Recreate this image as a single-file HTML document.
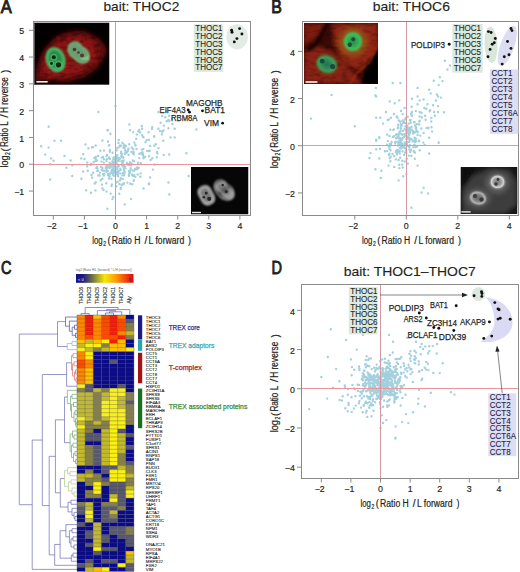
<!DOCTYPE html><html><head><meta charset="utf-8"><style>html,body{margin:0;padding:0;background:#fff;width:520px;height:572px;overflow:hidden}svg{display:block}text{font-family:"Liberation Sans",sans-serif}</style></head><body><svg width="520" height="572" viewBox="0 0 520 572" font-family="Liberation Sans, sans-serif">
<defs>
<filter id="b1" x="-30%" y="-30%" width="160%" height="160%"><feGaussianBlur stdDeviation="1.2"/></filter>
<filter id="b2" x="-30%" y="-30%" width="160%" height="160%"><feGaussianBlur stdDeviation="2.2"/></filter>
<filter id="b05" x="-30%" y="-30%" width="160%" height="160%"><feGaussianBlur stdDeviation="0.6"/></filter>
<filter id="mottle" x="0" y="0" width="100%" height="100%"><feTurbulence type="fractalNoise" baseFrequency="0.12 0.3" numOctaves="2" seed="4" result="n"/><feColorMatrix in="n" type="matrix" values="0 0 0 0 0  0 0 0 0 0  0 0 0 0 0  0 0 0 -2.2 1.25"/></filter>
<radialGradient id="nucG"><stop offset="0" stop-color="#1f7a3a"/><stop offset="0.55" stop-color="#2a9a48"/><stop offset="0.82" stop-color="#48d068"/><stop offset="0.95" stop-color="#3aa050"/><stop offset="1" stop-color="#3a6030" stop-opacity="0.4"/></radialGradient>
<radialGradient id="nucY"><stop offset="0" stop-color="#8a7a60"/><stop offset="0.5" stop-color="#8a9a70"/><stop offset="0.8" stop-color="#70c070"/><stop offset="0.95" stop-color="#50a050"/><stop offset="1" stop-color="#4a6030" stop-opacity="0.4"/></radialGradient>
<radialGradient id="nucW"><stop offset="0" stop-color="#808080"/><stop offset="0.6" stop-color="#989898"/><stop offset="0.85" stop-color="#c8c8c8"/><stop offset="1" stop-color="#606060" stop-opacity="0.3"/></radialGradient>
<radialGradient id="nucG2"><stop offset="0" stop-color="#2a8a40"/><stop offset="0.6" stop-color="#34b050"/><stop offset="0.85" stop-color="#48c864"/><stop offset="1" stop-color="#40a048" stop-opacity="0.5"/></radialGradient>
<radialGradient id="nucG3"><stop offset="0" stop-color="#2a6a50"/><stop offset="0.6" stop-color="#2e9058"/><stop offset="0.85" stop-color="#3cb060"/><stop offset="1" stop-color="#40a048" stop-opacity="0.5"/></radialGradient>
<radialGradient id="nucW2"><stop offset="0" stop-color="#6a6a6a"/><stop offset="0.6" stop-color="#808080"/><stop offset="0.85" stop-color="#b0b0b0"/><stop offset="1" stop-color="#606060" stop-opacity="0.3"/></radialGradient>
<clipPath id="cA1"><rect x="34.5" y="23" width="74.5" height="61.5"/></clipPath>
<clipPath id="cA2"><rect x="191" y="167" width="57.5" height="47.5"/></clipPath>
<clipPath id="cB1"><rect x="304" y="23" width="74" height="61"/></clipPath>
<clipPath id="cB2"><rect x="460.5" y="167" width="57" height="47"/></clipPath>
</defs>
<rect width="520" height="572" fill="#fff"/>
<path d="M106.4 156.1h.01M108.9 178.5h.01M124.0 165.7h.01M111.9 170.0h.01M123.8 183.2h.01M102.4 178.7h.01M111.4 171.4h.01M117.3 158.5h.01M110.5 173.1h.01M113.3 159.0h.01M137.2 167.4h.01M118.3 172.5h.01M142.1 153.9h.01M130.7 168.7h.01M131.5 151.9h.01M110.0 173.9h.01M121.4 156.0h.01M112.3 172.8h.01M103.8 162.6h.01M125.3 168.4h.01M111.8 166.1h.01M116.0 182.5h.01M129.9 164.7h.01M133.1 149.3h.01M117.5 174.1h.01M97.2 171.1h.01M107.8 167.5h.01M117.8 181.6h.01M106.4 166.0h.01M131.8 147.5h.01M113.6 157.5h.01M121.5 161.2h.01M120.4 173.4h.01M112.0 170.5h.01M116.2 172.4h.01M101.8 170.0h.01M114.0 159.1h.01M91.0 163.7h.01M125.8 145.7h.01M113.2 169.3h.01M117.4 148.0h.01M125.1 150.4h.01M116.4 186.3h.01M130.0 170.8h.01M103.1 156.9h.01M110.7 193.6h.01M117.3 155.3h.01M98.3 175.4h.01M122.1 156.5h.01M118.8 166.0h.01M121.3 156.0h.01M114.7 168.0h.01M129.0 171.3h.01M112.6 152.7h.01M129.9 172.6h.01M99.9 172.6h.01M95.8 182.2h.01M132.6 170.4h.01M84.5 159.1h.01M130.1 162.1h.01M117.5 175.3h.01M122.4 164.8h.01M106.8 159.2h.01M109.8 158.9h.01M118.7 159.1h.01M149.1 156.2h.01M113.7 175.4h.01M107.2 166.1h.01M97.9 170.7h.01M107.9 174.1h.01M129.5 163.7h.01M130.5 168.1h.01M123.1 160.8h.01M117.2 169.1h.01M136.5 149.0h.01M106.6 159.6h.01M116.3 173.9h.01M108.9 145.5h.01M95.7 159.2h.01M102.3 188.2h.01M109.8 165.0h.01M107.4 166.0h.01M113.7 165.4h.01M133.1 153.1h.01M123.4 157.6h.01M116.9 156.8h.01M106.6 169.7h.01M113.2 166.9h.01M122.7 162.1h.01M119.0 158.0h.01M112.5 161.1h.01M123.4 147.7h.01M130.1 163.1h.01M123.3 166.8h.01M118.6 171.0h.01M134.0 161.3h.01M103.8 175.6h.01M128.5 154.8h.01M118.7 139.9h.01M128.4 148.7h.01M122.8 178.9h.01M106.5 160.8h.01M110.5 167.0h.01M106.5 171.8h.01M114.7 168.5h.01M118.0 176.3h.01M113.1 174.8h.01M125.0 153.1h.01M93.1 172.8h.01M116.8 155.8h.01M122.5 161.8h.01M133.8 180.8h.01M123.0 173.2h.01M135.1 168.6h.01M139.2 158.1h.01M96.2 160.8h.01M109.0 157.4h.01M134.2 175.1h.01M112.2 163.1h.01M119.0 159.2h.01M118.0 175.3h.01M133.3 153.7h.01M121.8 165.3h.01M94.2 161.8h.01M115.8 156.7h.01M102.4 168.1h.01M109.7 176.2h.01M94.4 157.8h.01M113.9 175.7h.01M101.5 161.6h.01M117.7 171.6h.01M111.4 186.1h.01M112.2 169.2h.01M119.5 146.7h.01M122.5 175.4h.01M114.4 172.7h.01M141.0 153.2h.01M109.6 162.8h.01M115.1 165.9h.01M114.0 170.2h.01M104.3 173.8h.01M110.0 163.7h.01M132.9 160.5h.01M99.5 175.5h.01M117.2 160.1h.01M119.7 158.9h.01M121.5 157.3h.01M122.4 142.7h.01M134.1 170.8h.01M122.1 165.3h.01M124.3 173.6h.01M85.5 144.4h.01M127.1 151.7h.01M118.6 160.9h.01M143.6 157.0h.01M112.8 168.9h.01M106.3 183.3h.01M93.1 147.1h.01M131.5 164.2h.01M117.7 164.8h.01M107.8 171.1h.01M122.9 157.0h.01M81.4 178.8h.01M145.5 142.1h.01M120.9 153.3h.01M104.0 150.6h.01M101.1 166.8h.01M115.5 166.6h.01M103.8 159.2h.01M114.5 171.6h.01M103.1 174.3h.01M123.8 169.3h.01M127.5 164.2h.01M136.8 134.4h.01M113.1 171.0h.01M103.4 170.8h.01M132.3 184.2h.01M115.3 159.3h.01M87.2 166.3h.01M111.9 184.5h.01M134.3 142.4h.01M109.5 158.7h.01M116.6 162.3h.01M128.4 149.1h.01M118.8 158.7h.01M113.4 169.4h.01M114.0 167.6h.01M105.8 167.9h.01M126.9 164.0h.01M100.7 180.2h.01M104.3 170.6h.01M128.3 164.9h.01M113.9 164.1h.01M120.7 178.3h.01M123.6 160.4h.01M119.3 193.8h.01M116.9 172.1h.01M116.6 171.7h.01M101.6 157.6h.01M110.3 164.9h.01M124.7 171.9h.01M117.4 168.0h.01M142.5 152.2h.01M125.2 150.1h.01M131.2 165.3h.01M90.7 165.1h.01M97.1 167.1h.01M131.6 163.4h.01M124.8 147.5h.01M135.2 176.8h.01M137.7 174.5h.01M132.1 174.4h.01M150.1 145.9h.01M140.3 176.7h.01M95.7 145.5h.01M141.7 126.0h.01M143.5 158.2h.01M140.6 173.4h.01M97.4 168.6h.01M143.1 155.3h.01M158.5 148.1h.01M120.9 187.8h.01M133.8 154.2h.01M95.9 157.1h.01M140.8 163.2h.01M120.3 168.7h.01M124.4 145.8h.01M91.5 175.0h.01M125.9 152.3h.01M163.3 140.8h.01M129.3 124.4h.01M111.3 166.2h.01M148.9 184.3h.01M100.4 150.7h.01M135.5 145.6h.01M123.8 183.8h.01M98.1 155.9h.01M122.4 163.3h.01M122.5 184.4h.01M116.7 150.3h.01M143.2 137.0h.01M150.0 177.5h.01M135.7 169.2h.01M128.9 175.7h.01M111.4 178.8h.01M123.9 170.1h.01M123.8 144.5h.01M125.1 166.6h.01M142.1 135.2h.01M114.5 171.2h.01M129.3 173.4h.01M152.3 158.3h.01M117.3 160.8h.01M135.4 144.8h.01M109.8 166.6h.01M108.3 174.0h.01M125.1 154.1h.01M121.1 151.6h.01M140.2 132.4h.01M142.8 153.8h.01M148.8 139.7h.01M93.6 162.3h.01M121.7 185.0h.01M145.1 156.9h.01M136.2 138.9h.01M123.0 162.4h.01M124.0 175.2h.01M150.6 160.0h.01M114.1 161.8h.01M107.1 155.0h.01M157.0 152.0h.01M133.5 175.8h.01M129.2 144.2h.01M96.9 160.5h.01M127.1 162.9h.01M108.1 175.3h.01M109.9 150.0h.01M138.1 162.8h.01M122.1 153.9h.01M115.8 163.6h.01M127.4 182.6h.01M141.9 149.6h.01M154.5 164.5h.01M156.8 157.2h.01M137.5 169.0h.01M109.2 145.1h.01M119.8 145.5h.01M129.1 174.8h.01M138.7 167.8h.01M120.0 180.2h.01M96.3 168.0h.01M160.0 131.1h.01M102.0 184.6h.01M120.6 189.1h.01M133.8 180.1h.01M130.3 183.8h.01M174.7 128.8h.01M86.2 190.2h.01M109.4 167.7h.01M128.1 150.5h.01M103.6 190.1h.01M112.8 162.5h.01M142.1 128.7h.01M95.5 190.4h.01M92.1 177.7h.01M118.4 142.9h.01M119.5 159.2h.01M87.2 162.6h.01M119.4 184.0h.01M148.6 132.2h.01M143.3 149.1h.01M148.7 151.0h.01M139.2 130.0h.01M147.2 150.9h.01M121.1 145.8h.01M154.3 145.8h.01M126.5 152.6h.01M120.6 169.9h.01M124.5 166.6h.01M118.0 166.2h.01M139.4 153.7h.01M102.4 140.5h.01M133.7 151.9h.01M113.3 197.0h.01M169.2 154.5h.01M110.4 133.7h.01M109.8 151.8h.01M149.1 183.5h.01M163.9 125.6h.01M132.4 175.6h.01M161.9 134.4h.01M152.0 128.8h.01M172.0 118.9h.01M162.1 131.4h.01M162.3 131.7h.01M158.4 128.8h.01M169.3 121.0h.01M168.4 128.2h.01M166.7 121.3h.01M163.6 130.4h.01M154.2 136.7h.01M166.2 111.2h.01M154.1 136.1h.01M169.1 115.7h.01M48.6 126.7h.01M54.5 140.7h.01M61.1 140.7h.01M41.2 146.3h.01M48.6 147.6h.01M45.2 154.6h.01M51.1 158.4h.01M53.6 160.8h.01M50.2 164.2h.01M64.5 155.9h.01M70.7 160.5h.01M72.3 165.3h.01M66.4 167.7h.01M72.3 176.0h.01M50.2 179.5h.01M98.4 112.0h.01M107.4 130.2h.01M108.0 141.5h.01M90.9 192.7h.01M94.7 183.5h.01M107.4 208.7h.01M106.5 191.6h.01M87.8 170.7h.01M83.2 171.5h.01M81.3 158.4h.01M83.2 154.3h.01M88.4 148.2h.01M91.9 147.4h.01M99.3 175.5h.01M186.4 153.3h.01M188.6 176.0h.01M169.3 194.5h.01M168.4 182.5h.01M152.2 127.3h.01M158.4 112.0h.01M168.4 120.0h.01M172.4 124.0h.01M170.5 137.4h.01M174.6 137.4h.01M130.1 130.2h.01M133.2 132.1h.01M138.2 131.3h.01M108.0 130.2h.01M115.5 106.1h.01M162.2 116.0h.01M165.3 117.3h.01M160.6 122.7h.01M146.6 140.1h.01M155.9 144.2h.01M163.7 154.9h.01M152.8 169.6h.01M143.5 188.4h.01M131.1 199.1h.01M124.8 204.4h.01M112.4 199.1h.01M157.5 153.5h.01M149.7 150.8h.01M143.5 137.4h.01M196.4 129.4h.01" stroke="#a2d0de" stroke-width="2.40" stroke-linecap="round" fill="none" opacity="1.0"/>
<line x1="34" y1="164.5" x2="250" y2="164.5" stroke="#e9969c" stroke-width="1"/>
<line x1="115.5" y1="22" x2="115.5" y2="215" stroke="#d49aa2" stroke-width="1"/>
<rect x="33.5" y="21.5" width="217" height="194" fill="none" stroke="#8a8a8a" stroke-width="1"/>
<line x1="53.30" y1="215.5" x2="53.30" y2="219.5" stroke="#8a8a8a" stroke-width="1"/>
<text x="51.70" y="229.30" font-size="8.8" fill="#231f20" text-anchor="middle" stroke="#231f20" stroke-width="0.18" >−2</text>
<line x1="84.40" y1="215.5" x2="84.40" y2="219.5" stroke="#8a8a8a" stroke-width="1"/>
<text x="82.80" y="229.30" font-size="8.8" fill="#231f20" text-anchor="middle" stroke="#231f20" stroke-width="0.18" >−1</text>
<line x1="115.50" y1="215.5" x2="115.50" y2="219.5" stroke="#8a8a8a" stroke-width="1"/>
<text x="115.50" y="229.30" font-size="8.8" fill="#231f20" text-anchor="middle" stroke="#231f20" stroke-width="0.18" >0</text>
<line x1="146.60" y1="215.5" x2="146.60" y2="219.5" stroke="#8a8a8a" stroke-width="1"/>
<text x="146.60" y="229.30" font-size="8.8" fill="#231f20" text-anchor="middle" stroke="#231f20" stroke-width="0.18" >1</text>
<line x1="177.70" y1="215.5" x2="177.70" y2="219.5" stroke="#8a8a8a" stroke-width="1"/>
<text x="177.70" y="229.30" font-size="8.8" fill="#231f20" text-anchor="middle" stroke="#231f20" stroke-width="0.18" >2</text>
<line x1="208.80" y1="215.5" x2="208.80" y2="219.5" stroke="#8a8a8a" stroke-width="1"/>
<text x="208.80" y="229.30" font-size="8.8" fill="#231f20" text-anchor="middle" stroke="#231f20" stroke-width="0.18" >3</text>
<line x1="239.90" y1="215.5" x2="239.90" y2="219.5" stroke="#8a8a8a" stroke-width="1"/>
<text x="239.90" y="229.30" font-size="8.8" fill="#231f20" text-anchor="middle" stroke="#231f20" stroke-width="0.18" >4</text>
<line x1="29" y1="191.05" x2="33.5" y2="191.05" stroke="#8a8a8a" stroke-width="1"/>
<text x="24.20" y="195.25" font-size="8.8" fill="#231f20" text-anchor="end" stroke="#231f20" stroke-width="0.18" >−1</text>
<line x1="29" y1="164.25" x2="33.5" y2="164.25" stroke="#8a8a8a" stroke-width="1"/>
<text x="24.20" y="168.45" font-size="8.8" fill="#231f20" text-anchor="end" stroke="#231f20" stroke-width="0.18" >0</text>
<line x1="29" y1="137.45" x2="33.5" y2="137.45" stroke="#8a8a8a" stroke-width="1"/>
<text x="24.20" y="141.65" font-size="8.8" fill="#231f20" text-anchor="end" stroke="#231f20" stroke-width="0.18" >1</text>
<line x1="29" y1="110.65" x2="33.5" y2="110.65" stroke="#8a8a8a" stroke-width="1"/>
<text x="24.20" y="114.85" font-size="8.8" fill="#231f20" text-anchor="end" stroke="#231f20" stroke-width="0.18" >2</text>
<line x1="29" y1="83.85" x2="33.5" y2="83.85" stroke="#8a8a8a" stroke-width="1"/>
<text x="24.20" y="88.05" font-size="8.8" fill="#231f20" text-anchor="end" stroke="#231f20" stroke-width="0.18" >3</text>
<line x1="29" y1="57.05" x2="33.5" y2="57.05" stroke="#8a8a8a" stroke-width="1"/>
<text x="24.20" y="61.25" font-size="8.8" fill="#231f20" text-anchor="end" stroke="#231f20" stroke-width="0.18" >4</text>
<line x1="29" y1="30.25" x2="33.5" y2="30.25" stroke="#8a8a8a" stroke-width="1"/>
<text x="24.20" y="34.45" font-size="8.8" fill="#231f20" text-anchor="end" stroke="#231f20" stroke-width="0.18" >5</text>
<g transform="translate(92.20,243.60)"><text x="0.00" y="0.00" font-size="10" fill="#231f20" stroke="#231f20" stroke-width="0.2" textLength="10.40" lengthAdjust="spacingAndGlyphs">log</text><text x="11.00" y="2.20" font-size="6.5" fill="#231f20" stroke="#231f20" stroke-width="0.2" textLength="2.80" lengthAdjust="spacingAndGlyphs">2</text><text x="15.20" y="0.60" font-size="11.5" fill="#231f20" stroke="#231f20" stroke-width="0.2" textLength="3.20" lengthAdjust="spacingAndGlyphs">(</text><text x="19.60" y="0.00" font-size="10" fill="#231f20" stroke="#231f20" stroke-width="0.2" textLength="28.70" lengthAdjust="spacingAndGlyphs">Ratio H</text><text x="52.30" y="0.00" font-size="10" fill="#231f20" stroke="#231f20" stroke-width="0.2" textLength="2.80" lengthAdjust="spacingAndGlyphs">/</text><text x="56.40" y="0.00" font-size="10" fill="#231f20" stroke="#231f20" stroke-width="0.2" textLength="35.60" lengthAdjust="spacingAndGlyphs">L forward</text><text x="95.90" y="0.60" font-size="11.5" fill="#231f20" stroke="#231f20" stroke-width="0.2" textLength="3.00" lengthAdjust="spacingAndGlyphs">)</text></g>
<g transform="translate(8.00,167.60) rotate(-90)"><text x="0.00" y="0.00" font-size="10" fill="#231f20" stroke="#231f20" stroke-width="0.2" textLength="12.10" lengthAdjust="spacingAndGlyphs">log</text><text x="12.70" y="2.20" font-size="6.5" fill="#231f20" stroke="#231f20" stroke-width="0.2" textLength="2.80" lengthAdjust="spacingAndGlyphs">2</text><text x="16.10" y="0.60" font-size="11.5" fill="#231f20" stroke="#231f20" stroke-width="0.2" textLength="3.40" lengthAdjust="spacingAndGlyphs">(</text><text x="20.60" y="0.00" font-size="10" fill="#231f20" stroke="#231f20" stroke-width="0.2" textLength="25.80" lengthAdjust="spacingAndGlyphs">Ratio L</text><text x="49.90" y="0.00" font-size="10" fill="#231f20" stroke="#231f20" stroke-width="0.2" textLength="3.50" lengthAdjust="spacingAndGlyphs">/</text><text x="54.50" y="0.00" font-size="10" fill="#231f20" stroke="#231f20" stroke-width="0.2" textLength="36.00" lengthAdjust="spacingAndGlyphs">H reverse</text><text x="94.70" y="0.60" font-size="11.5" fill="#231f20" stroke="#231f20" stroke-width="0.2" textLength="3.20" lengthAdjust="spacingAndGlyphs">)</text></g>
<text x="0.80" y="12.50" font-size="17.5" fill="#231f20" text-anchor="start" stroke="#231f20" stroke-width="0.9" textLength="11.00" lengthAdjust="spacingAndGlyphs" >A</text>
<text x="103.40" y="11.40" font-size="13.6" fill="#231f20" text-anchor="start" stroke="#231f20" stroke-width="0.15" textLength="75.90" lengthAdjust="spacingAndGlyphs" >bait: THOC2</text>
<g clip-path="url(#cA1)">
<rect x="34.5" y="23" width="74.5" height="61.5" fill="#030000"/>
<path d="M35 80 L36 66 L41 54 L48 44 L57 36 L69 31 L84 31 L96 36 L104 43 L107 51 L103 60 L96 70 L84 78 L68 82 L50 82 L38 82 Z" fill="#5e0a0a" filter="url(#b2)"/>
<path d="M40 76 L44 60 L52 47 L64 39 L80 36 L94 41 L100 50 L95 62 L84 72 L66 77 L48 78 Z" fill="#8c1212" filter="url(#b2)"/>
<rect x="34.5" y="23" width="74.5" height="61.5" fill="#000" filter="url(#mottle)" opacity="0.45"/>
<path d="M58 36 L62 72 M70 33 L66 78 M88 36 L97 64 M46 56 L50 78" stroke="#b81818" stroke-width="2" filter="url(#b1)" opacity="0.45"/>
<ellipse cx="55.6" cy="59.6" rx="9.2" ry="12.2" transform="rotate(-18 55.6 59.6)" fill="#2a8a48" filter="url(#b1)"/>
<ellipse cx="55.6" cy="59.6" rx="8.2" ry="11.2" transform="rotate(-18 55.6 59.6)" fill="none" stroke="#58d078" stroke-width="2.2" filter="url(#b1)" opacity="0.9"/>
<circle cx="53.8" cy="57.3" r="3.5" fill="#48c068" opacity="0.7" filter="url(#b05)"/>
<circle cx="58.5" cy="64.8" r="4.2" fill="#48c068" opacity="0.7" filter="url(#b05)"/>
<circle cx="51.5" cy="63.5" r="2.8" fill="#48c068" opacity="0.7" filter="url(#b05)"/>
<circle cx="53.8" cy="57.3" r="2.0" fill="#0c2a14" filter="url(#b05)"/>
<circle cx="58.5" cy="64.8" r="2.6" fill="#0c2a14" filter="url(#b05)"/>
<circle cx="51.5" cy="63.5" r="1.4" fill="#0c2a14" filter="url(#b05)"/>
<path d="M70 45 C73 41 79 42 81 47 C87 49 90 55 88 60 C85 64 78 63 75 58 C70 56 67 50 70 45 Z" fill="#6a9a70" filter="url(#b1)"/>
<path d="M70 45 C73 41 79 42 81 47 C87 49 90 55 88 60 C85 64 78 63 75 58 C70 56 67 50 70 45 Z" fill="none" stroke="#70c888" stroke-width="2.2" filter="url(#b1)" opacity="0.9"/>
<path d="M81 58 C85 60 88 59 88 56" stroke="#c8d898" stroke-width="2" fill="none" filter="url(#b1)" opacity="0.7"/>
<circle cx="74.5" cy="49.5" r="1.8" fill="#4a2a22" filter="url(#b05)" opacity="0.85"/>
<circle cx="82" cy="55.5" r="2.0" fill="#4a2a22" filter="url(#b05)" opacity="0.85"/>
<circle cx="78.5" cy="52.5" r="1.3" fill="#4a2a22" filter="url(#b05)" opacity="0.85"/>
<rect x="36.3" y="81" width="11.4" height="1.6" fill="#f0f0f0"/>
</g>
<rect x="34.5" y="23" width="74.5" height="61.5" fill="none" stroke="#111" stroke-width="0.6"/>
<g clip-path="url(#cA2)">
<rect x="191" y="167" width="57.5" height="47.5" fill="#060606"/>
<rect x="199.8" y="185.5" width="13" height="19.5" rx="5.5" transform="rotate(-28 206.3 195.2)" fill="#9c9c9c" filter="url(#b1)"/>
<rect x="202" y="188.5" width="8.6" height="13.5" rx="4" transform="rotate(-28 206.3 195.2)" fill="#7a7a7a" filter="url(#b1)"/>
<ellipse cx="221" cy="186.8" rx="6.2" ry="5.8" fill="#949494" filter="url(#b1)"/>
<ellipse cx="227.5" cy="193.2" rx="7.2" ry="6" transform="rotate(35 227.5 193.2)" fill="#9a9a9a" filter="url(#b1)"/>
<ellipse cx="224.5" cy="190" rx="5" ry="3.4" transform="rotate(40 224.5 190)" fill="#5a5a5a" filter="url(#b1)"/>
<ellipse cx="221" cy="186.5" rx="3" ry="2.6" fill="#7a7a7a" filter="url(#b1)"/>
<rect x="200.3" y="186" width="12" height="18.5" rx="5.5" transform="rotate(-28 206.3 195.2)" fill="none" stroke="#d4d4d4" stroke-width="1.6" filter="url(#b1)" opacity="0.7"/>
<path d="M216 182 C219 179 225 180 227 185 C233 186 235 194 232 198 C229 201 222 200 219 195 C215 192 213 186 216 182 Z" fill="none" stroke="#cfcfcf" stroke-width="1.6" filter="url(#b1)" opacity="0.7"/>
<circle cx="206.2" cy="193.1" r="1.5" fill="#262626" filter="url(#b05)"/>
<circle cx="203.8" cy="197.3" r="1.3" fill="#262626" filter="url(#b05)"/>
<circle cx="209.2" cy="198.8" r="2.1" fill="#262626" filter="url(#b05)"/>
<circle cx="222.7" cy="185" r="1.2" fill="#262626" filter="url(#b05)"/>
<circle cx="226.2" cy="191.5" r="1.5" fill="#262626" filter="url(#b05)"/>
<rect x="192" y="211.8" width="9" height="1.4" fill="#e8e8e8"/>
</g>
<rect x="193.80" y="24.20" width="29.50" height="47.70" fill="#dde9df"/>
<text x="195.30" y="31.15" font-size="9.6" fill="#1e2a20" text-anchor="start" stroke="#1e2a20" stroke-width="0.12" textLength="27.11" lengthAdjust="spacingAndGlyphs" >THOC1</text>
<text x="195.30" y="39.00" font-size="9.6" fill="#1e2a20" text-anchor="start" stroke="#1e2a20" stroke-width="0.12" textLength="27.11" lengthAdjust="spacingAndGlyphs" >THOC2</text>
<text x="195.30" y="46.85" font-size="9.6" fill="#1e2a20" text-anchor="start" stroke="#1e2a20" stroke-width="0.12" textLength="27.11" lengthAdjust="spacingAndGlyphs" >THOC3</text>
<text x="195.30" y="54.70" font-size="9.6" fill="#1e2a20" text-anchor="start" stroke="#1e2a20" stroke-width="0.12" textLength="27.11" lengthAdjust="spacingAndGlyphs" >THOC5</text>
<text x="195.30" y="62.55" font-size="9.6" fill="#1e2a20" text-anchor="start" stroke="#1e2a20" stroke-width="0.12" textLength="27.11" lengthAdjust="spacingAndGlyphs" >THOC6</text>
<text x="195.30" y="70.40" font-size="9.6" fill="#1e2a20" text-anchor="start" stroke="#1e2a20" stroke-width="0.12" textLength="27.11" lengthAdjust="spacingAndGlyphs" >THOC7</text>
<ellipse cx="237.1" cy="36.8" rx="10.8" ry="12.5" fill="#e2ebe4"/>
<circle cx="231.60" cy="30.30" r="1.45" fill="#111"/>
<circle cx="232.00" cy="32.30" r="1.45" fill="#111"/>
<circle cx="239.60" cy="28.60" r="1.45" fill="#111"/>
<circle cx="241.90" cy="34.00" r="1.45" fill="#111"/>
<circle cx="236.90" cy="38.60" r="1.45" fill="#111"/>
<circle cx="234.30" cy="41.90" r="1.45" fill="#111"/>
<text x="186.00" y="106.20" font-size="9.6" fill="#231f20" text-anchor="start" stroke="#231f20" stroke-width="0.25" textLength="36.50" lengthAdjust="spacingAndGlyphs" >MAGOHB</text>
<text x="159.50" y="113.20" font-size="9.6" fill="#231f20" text-anchor="start" stroke="#231f20" stroke-width="0.25" textLength="26.00" lengthAdjust="spacingAndGlyphs" >EIF4A3</text>
<text x="204.50" y="113.20" font-size="9.6" fill="#231f20" text-anchor="start" stroke="#231f20" stroke-width="0.25" textLength="20.50" lengthAdjust="spacingAndGlyphs" >BAT1</text>
<text x="171.00" y="121.20" font-size="9.6" fill="#231f20" text-anchor="start" stroke="#231f20" stroke-width="0.25" textLength="26.50" lengthAdjust="spacingAndGlyphs" >RBM8A</text>
<text x="204.00" y="126.20" font-size="9.6" fill="#231f20" text-anchor="start" stroke="#231f20" stroke-width="0.25" textLength="15.00" lengthAdjust="spacingAndGlyphs" >VIM</text>
<circle cx="188.20" cy="110.00" r="1.4" fill="#111"/>
<circle cx="189.50" cy="112.20" r="1.4" fill="#111"/>
<circle cx="202.50" cy="110.80" r="1.4" fill="#111"/>
<circle cx="222.60" cy="123.20" r="1.4" fill="#111"/>
<path d="M407.8 133.1h.01M387.1 134.6h.01M390.3 129.7h.01M411.9 130.0h.01M413.3 131.3h.01M401.4 134.3h.01M414.2 145.1h.01M400.5 144.5h.01M397.9 145.5h.01M405.0 142.5h.01M400.6 141.1h.01M402.7 145.6h.01M399.8 153.4h.01M403.3 122.9h.01M424.7 144.9h.01M388.8 146.2h.01M415.9 147.0h.01M402.7 114.1h.01M406.3 132.5h.01M387.9 141.1h.01M401.6 125.8h.01M405.9 135.6h.01M419.6 120.7h.01M398.2 150.7h.01M398.2 124.7h.01M404.5 143.4h.01M389.4 153.7h.01M400.2 157.8h.01M409.0 146.7h.01M408.8 138.6h.01M409.4 141.1h.01M396.7 137.8h.01M415.7 127.8h.01M411.3 113.7h.01M391.6 142.0h.01M380.8 178.0h.01M399.5 131.6h.01M399.4 168.1h.01M399.5 144.4h.01M401.7 143.1h.01M393.3 130.0h.01M399.7 140.1h.01M400.8 124.2h.01M414.6 122.1h.01M404.9 119.6h.01M409.8 130.6h.01M396.9 154.4h.01M395.6 141.6h.01M391.0 144.1h.01M405.0 144.4h.01M390.0 144.0h.01M405.3 126.5h.01M402.6 137.9h.01M406.7 145.8h.01M402.5 144.5h.01M387.1 151.1h.01M416.8 146.8h.01M419.0 140.6h.01M409.2 134.7h.01M402.0 145.0h.01M419.3 121.6h.01M398.6 144.5h.01M405.3 123.1h.01M400.9 126.8h.01M417.6 134.9h.01M409.0 130.1h.01M404.1 137.0h.01M412.8 141.3h.01M411.4 126.9h.01M395.9 151.3h.01M405.7 135.5h.01M404.2 154.7h.01M404.6 107.9h.01M416.3 141.3h.01M399.8 142.4h.01M409.0 138.0h.01M409.9 145.1h.01M402.2 160.7h.01M404.4 134.3h.01M406.0 134.6h.01M405.6 123.3h.01M394.0 136.3h.01M398.4 150.4h.01M392.5 153.9h.01M395.9 152.1h.01M411.6 139.3h.01M395.8 159.4h.01M417.4 132.0h.01M398.8 120.5h.01M406.5 145.4h.01M409.7 129.0h.01M407.0 136.3h.01M402.7 147.3h.01M404.7 129.1h.01M387.7 120.1h.01M415.5 145.7h.01M417.9 132.1h.01M396.1 134.7h.01M413.5 147.3h.01M390.7 156.7h.01M394.2 156.2h.01M407.0 144.4h.01M413.8 151.1h.01M403.1 130.7h.01M389.7 146.4h.01M419.2 141.3h.01M396.2 138.3h.01M400.3 138.2h.01M387.2 144.6h.01M414.9 142.3h.01M415.9 127.3h.01M408.5 137.3h.01M407.5 127.5h.01M402.4 134.7h.01M401.6 124.4h.01M413.0 132.9h.01M412.6 130.9h.01M398.6 142.5h.01M400.1 142.3h.01M397.1 149.9h.01M395.1 143.6h.01M400.2 133.1h.01M416.0 138.8h.01M410.6 120.2h.01M409.9 127.9h.01M425.1 115.8h.01M407.3 126.0h.01M407.5 142.3h.01M402.5 138.4h.01M397.8 128.4h.01M389.8 158.3h.01M399.6 151.0h.01M399.8 147.7h.01M407.9 163.6h.01M399.5 132.5h.01M414.5 137.6h.01M406.8 129.2h.01M413.1 133.6h.01M389.4 148.8h.01M409.4 147.1h.01M410.7 122.7h.01M417.1 124.1h.01M398.6 137.8h.01M402.6 145.8h.01M415.6 124.9h.01M390.6 150.3h.01M408.8 130.1h.01M405.9 150.3h.01M415.2 125.2h.01M414.6 140.1h.01M398.7 141.6h.01M415.0 152.5h.01M411.8 115.2h.01M409.9 132.9h.01M416.6 130.7h.01M406.2 130.8h.01M395.1 142.1h.01M394.3 166.9h.01M401.7 147.7h.01M396.5 137.5h.01M405.7 144.8h.01M398.6 134.8h.01M405.9 147.9h.01M407.6 136.5h.01M409.3 141.8h.01M423.3 142.6h.01M397.6 142.2h.01M409.9 120.3h.01M404.8 147.9h.01M399.3 164.7h.01M406.5 138.9h.01M411.1 150.0h.01M405.4 135.1h.01M399.6 132.9h.01M392.9 136.9h.01M402.5 151.2h.01M410.2 138.8h.01M401.1 145.6h.01M403.7 146.6h.01M414.9 132.3h.01M400.5 130.8h.01M397.4 134.2h.01M398.6 159.9h.01M409.9 139.3h.01M398.1 127.2h.01M400.9 148.6h.01M407.4 138.8h.01M397.6 152.5h.01M420.3 135.6h.01M411.4 155.7h.01M393.8 129.5h.01M411.6 106.7h.01M406.2 152.8h.01M419.6 116.4h.01M389.4 135.9h.01M388.8 119.5h.01M406.7 158.8h.01M426.5 128.1h.01M402.5 120.5h.01M396.8 116.5h.01M428.4 127.7h.01M410.2 151.9h.01M408.2 130.7h.01M390.4 161.2h.01M401.0 111.0h.01M398.5 136.2h.01M404.7 161.5h.01M409.9 132.0h.01M411.0 113.7h.01M433.8 80.7h.01M405.0 152.6h.01M403.9 121.9h.01M409.4 149.5h.01M416.2 129.3h.01M411.9 115.9h.01M421.4 112.8h.01M407.8 116.6h.01M419.4 121.5h.01M430.7 93.4h.01M429.7 111.3h.01M426.4 108.8h.01M393.9 114.0h.01M408.9 155.6h.01M421.4 128.5h.01M415.5 139.0h.01M406.8 136.5h.01M431.3 117.9h.01M407.1 138.2h.01M411.3 127.2h.01M400.8 128.6h.01M405.7 118.0h.01M413.8 151.8h.01M443.9 112.2h.01M408.6 123.6h.01M431.5 127.3h.01M407.7 127.8h.01M380.0 148.9h.01M411.9 98.7h.01M401.7 140.2h.01M400.4 121.8h.01M376.2 149.3h.01M370.5 153.1h.01M369.5 158.0h.01M379.3 158.5h.01M375.4 169.3h.01M381.3 170.8h.01M388.5 165.6h.01M402.2 164.6h.01M402.7 167.5h.01M403.2 176.2h.01M398.6 180.4h.01M406.3 174.1h.01M414.8 158.7h.01M417.6 165.6h.01M429.2 153.5h.01M423.6 187.8h.01M421.5 192.5h.01M428.2 193.4h.01M411.4 207.8h.01M438.7 142.4h.01M423.6 133.0h.01M429.2 137.7h.01M376.2 139.6h.01M379.3 137.3h.01M419.7 150.2h.01M388.8 155.0h.01M384.9 151.2h.01M439.8 77.3h.01M442.6 81.1h.01M438.7 85.1h.01M447.5 69.5h.01M392.7 83.0h.01M400.4 83.0h.01M375.9 87.9h.01M375.4 95.5h.01M376.2 96.4h.01M417.6 87.9h.01M429.2 89.8h.01M389.8 101.4h.01M394.7 103.3h.01M399.3 100.4h.01M417.6 96.4h.01M419.7 100.4h.01M423.6 99.5h.01M436.9 94.5h.01M438.0 96.4h.01M440.8 97.6h.01M435.9 100.4h.01M417.6 104.2h.01M427.4 104.2h.01M433.1 105.2h.01M438.0 106.1h.01M386.0 112.0h.01M376.2 117.7h.01M380.3 117.7h.01M412.0 112.0h.01M415.8 111.1h.01M419.7 112.0h.01M424.3 108.0h.01M430.2 110.1h.01M434.1 112.0h.01M438.0 112.0h.01M434.9 115.8h.01M390.9 117.7h.01M397.5 117.7h.01M383.1 123.6h.01M431.3 121.4h.01M438.7 142.7h.01M428.2 128.3h.01M423.6 133.0h.01M379.3 138.0h.01M376.2 140.8h.01M311.0 118.6h.01M331.6 95.0h.01M354.8 126.2h.01M444.9 60.8h.01M450.1 65.5h.01M463.0 63.1h.01M421.8 117.4h.01M425.6 119.8h.01M414.0 122.2h.01M419.2 124.5h.01M432.1 131.6h.01" stroke="#a2d0de" stroke-width="2.40" stroke-linecap="round" fill="none" opacity="1.0"/>
<line x1="303" y1="145.5" x2="518" y2="145.5" stroke="#e9969c" stroke-width="1"/>
<line x1="406.5" y1="22" x2="406.5" y2="215" stroke="#d49aa2" stroke-width="1"/>
<rect x="302.5" y="21.5" width="216" height="194" fill="none" stroke="#8a8a8a" stroke-width="1"/>
<line x1="354.80" y1="215.5" x2="354.80" y2="219.5" stroke="#8a8a8a" stroke-width="1"/>
<text x="353.20" y="229.30" font-size="8.8" fill="#231f20" text-anchor="middle" stroke="#231f20" stroke-width="0.18" >−2</text>
<line x1="406.30" y1="215.5" x2="406.30" y2="219.5" stroke="#8a8a8a" stroke-width="1"/>
<text x="406.30" y="229.30" font-size="8.8" fill="#231f20" text-anchor="middle" stroke="#231f20" stroke-width="0.18" >0</text>
<line x1="457.80" y1="215.5" x2="457.80" y2="219.5" stroke="#8a8a8a" stroke-width="1"/>
<text x="457.80" y="229.30" font-size="8.8" fill="#231f20" text-anchor="middle" stroke="#231f20" stroke-width="0.18" >2</text>
<line x1="509.30" y1="215.5" x2="509.30" y2="219.5" stroke="#8a8a8a" stroke-width="1"/>
<text x="509.30" y="229.30" font-size="8.8" fill="#231f20" text-anchor="middle" stroke="#231f20" stroke-width="0.18" >4</text>
<line x1="298" y1="192.95" x2="302.5" y2="192.95" stroke="#8a8a8a" stroke-width="1"/>
<text x="295.00" y="197.15" font-size="8.8" fill="#231f20" text-anchor="end" stroke="#231f20" stroke-width="0.18" >−2</text>
<line x1="298" y1="145.75" x2="302.5" y2="145.75" stroke="#8a8a8a" stroke-width="1"/>
<text x="295.00" y="149.95" font-size="8.8" fill="#231f20" text-anchor="end" stroke="#231f20" stroke-width="0.18" >0</text>
<line x1="298" y1="98.55" x2="302.5" y2="98.55" stroke="#8a8a8a" stroke-width="1"/>
<text x="295.00" y="102.75" font-size="8.8" fill="#231f20" text-anchor="end" stroke="#231f20" stroke-width="0.18" >2</text>
<line x1="298" y1="51.35" x2="302.5" y2="51.35" stroke="#8a8a8a" stroke-width="1"/>
<text x="295.00" y="55.55" font-size="8.8" fill="#231f20" text-anchor="end" stroke="#231f20" stroke-width="0.18" >4</text>
<g transform="translate(362.00,243.60)"><text x="0.00" y="0.00" font-size="10" fill="#231f20" stroke="#231f20" stroke-width="0.2" textLength="10.40" lengthAdjust="spacingAndGlyphs">log</text><text x="11.00" y="2.20" font-size="6.5" fill="#231f20" stroke="#231f20" stroke-width="0.2" textLength="2.80" lengthAdjust="spacingAndGlyphs">2</text><text x="15.20" y="0.60" font-size="11.5" fill="#231f20" stroke="#231f20" stroke-width="0.2" textLength="3.20" lengthAdjust="spacingAndGlyphs">(</text><text x="19.60" y="0.00" font-size="10" fill="#231f20" stroke="#231f20" stroke-width="0.2" textLength="28.70" lengthAdjust="spacingAndGlyphs">Ratio H</text><text x="52.30" y="0.00" font-size="10" fill="#231f20" stroke="#231f20" stroke-width="0.2" textLength="2.80" lengthAdjust="spacingAndGlyphs">/</text><text x="56.40" y="0.00" font-size="10" fill="#231f20" stroke="#231f20" stroke-width="0.2" textLength="35.60" lengthAdjust="spacingAndGlyphs">L forward</text><text x="95.90" y="0.60" font-size="11.5" fill="#231f20" stroke="#231f20" stroke-width="0.2" textLength="3.00" lengthAdjust="spacingAndGlyphs">)</text></g>
<g transform="translate(278.20,168.30) rotate(-90)"><text x="0.00" y="0.00" font-size="10" fill="#231f20" stroke="#231f20" stroke-width="0.2" textLength="12.10" lengthAdjust="spacingAndGlyphs">log</text><text x="12.70" y="2.20" font-size="6.5" fill="#231f20" stroke="#231f20" stroke-width="0.2" textLength="2.80" lengthAdjust="spacingAndGlyphs">2</text><text x="16.10" y="0.60" font-size="11.5" fill="#231f20" stroke="#231f20" stroke-width="0.2" textLength="3.40" lengthAdjust="spacingAndGlyphs">(</text><text x="20.60" y="0.00" font-size="10" fill="#231f20" stroke="#231f20" stroke-width="0.2" textLength="25.80" lengthAdjust="spacingAndGlyphs">Ratio L</text><text x="49.90" y="0.00" font-size="10" fill="#231f20" stroke="#231f20" stroke-width="0.2" textLength="3.50" lengthAdjust="spacingAndGlyphs">/</text><text x="54.50" y="0.00" font-size="10" fill="#231f20" stroke="#231f20" stroke-width="0.2" textLength="36.00" lengthAdjust="spacingAndGlyphs">H reverse</text><text x="94.70" y="0.60" font-size="11.5" fill="#231f20" stroke="#231f20" stroke-width="0.2" textLength="3.20" lengthAdjust="spacingAndGlyphs">)</text></g>
<text x="271.30" y="12.50" font-size="17.5" fill="#231f20" text-anchor="start" stroke="#231f20" stroke-width="0.9" textLength="10.60" lengthAdjust="spacingAndGlyphs" >B</text>
<text x="372.80" y="11.30" font-size="13.6" fill="#231f20" text-anchor="start" stroke="#231f20" stroke-width="0.15" textLength="77.10" lengthAdjust="spacingAndGlyphs" >bait: THOC6</text>
<g clip-path="url(#cB1)">
<rect x="304" y="23" width="74" height="61" fill="#3a0a06"/>
<path d="M304 23 L326 23 L318 36 L304 46 Z" fill="#7e1c10" filter="url(#b2)"/>
<path d="M332 23 L378 23 L378 52 L370 64 L356 70 L342 62 L334 46 Z" fill="#902614" filter="url(#b2)"/>
<path d="M304 52 L316 46 L330 50 L344 62 L356 76 L362 84 L304 84 Z" fill="#8a2212" filter="url(#b2)"/>
<path d="M362 84 L366 64 L378 50 L378 84 Z" fill="#030000" filter="url(#b1)"/>
<path d="M328 23 L322 34 L316 44 L308 50" stroke="#1a0402" stroke-width="3" fill="none" filter="url(#b1)"/>
<path d="M378 44 L370 62 L356 74 L350 84" stroke="#b03010" stroke-width="2" fill="none" filter="url(#b1)" opacity="0.8"/>
<rect x="304" y="23" width="74" height="61" fill="#000" filter="url(#mottle)" opacity="0.3"/>
<ellipse cx="353" cy="42" rx="15" ry="15" fill="#a06818" filter="url(#b2)" opacity="0.6"/>
<ellipse cx="352.9" cy="41.6" rx="9.7" ry="10" fill="url(#nucG2)" filter="url(#b1)"/>
<ellipse cx="327" cy="64" rx="10.5" ry="8.7" transform="rotate(20 327 64)" fill="#5a6a20" filter="url(#b2)" opacity="0.6"/>
<ellipse cx="326.7" cy="64.2" rx="10.5" ry="8.6" transform="rotate(25 326.7 64.2)" fill="url(#nucG3)" filter="url(#b1)"/>
<circle cx="353.3" cy="39.2" r="2.0" fill="#1c3a3a" filter="url(#b05)" opacity="0.85"/>
<circle cx="349.7" cy="44.8" r="2.2" fill="#1c3a3a" filter="url(#b05)" opacity="0.85"/>
<circle cx="322.2" cy="61.2" r="2.4" fill="#1c3a3a" filter="url(#b05)" opacity="0.85"/>
<circle cx="332.7" cy="66.5" r="2.6" fill="#1c3a3a" filter="url(#b05)" opacity="0.85"/>
<rect x="305.5" y="81.2" width="11.9" height="1.6" fill="#f0f0f0"/>
</g>
<g clip-path="url(#cB2)">
<rect x="460.5" y="167" width="57" height="47" fill="#151515"/>
<path d="M462 214 L462 190 L472 176 L490 168 L510 170 L517 182 L517 205 L505 214 Z" fill="#3e3e3e" filter="url(#b2)"/>
<ellipse cx="497" cy="183" rx="12" ry="11" fill="#5a5a5a" filter="url(#b2)"/>
<ellipse cx="478" cy="198" rx="13" ry="10" fill="#555" filter="url(#b2)"/>
<path d="M462 167 L475 167 L462 185 Z" fill="#0a0a0a" filter="url(#b1)"/>
<ellipse cx="497.5" cy="181.9" rx="7.5" ry="6.9" fill="url(#nucW)" filter="url(#b05)"/>
<ellipse cx="478" cy="198" rx="8.75" ry="6.9" transform="rotate(15 478 198)" fill="url(#nucW2)" filter="url(#b05)"/>
<ellipse cx="497.5" cy="181.9" rx="6.3" ry="5.7" fill="none" stroke="#e0e0e0" stroke-width="2" filter="url(#b1)" opacity="0.75"/>
<ellipse cx="478" cy="198" rx="7.5" ry="5.7" transform="rotate(15 478 198)" fill="none" stroke="#c8c8c8" stroke-width="1.8" filter="url(#b1)" opacity="0.6"/>
<circle cx="498" cy="179.5" r="1.4" fill="#3a3a3a" filter="url(#b05)"/>
<circle cx="496" cy="184" r="1.8" fill="#3a3a3a" filter="url(#b05)"/>
<circle cx="475" cy="196" r="2.0" fill="#3a3a3a" filter="url(#b05)"/>
<circle cx="481.5" cy="199.5" r="2.2" fill="#3a3a3a" filter="url(#b05)"/>
<rect x="461.3" y="211.2" width="9.3" height="1.4" fill="#eee"/>
</g>
<rect x="452.30" y="23.90" width="30.40" height="48.78" fill="#dde9df"/>
<text x="453.80" y="31.03" font-size="9.6" fill="#1e2a20" text-anchor="start" stroke="#1e2a20" stroke-width="0.12" textLength="27.11" lengthAdjust="spacingAndGlyphs" >THOC1</text>
<text x="453.80" y="39.06" font-size="9.6" fill="#1e2a20" text-anchor="start" stroke="#1e2a20" stroke-width="0.12" textLength="27.11" lengthAdjust="spacingAndGlyphs" >THOC2</text>
<text x="453.80" y="47.09" font-size="9.6" fill="#1e2a20" text-anchor="start" stroke="#1e2a20" stroke-width="0.12" textLength="27.11" lengthAdjust="spacingAndGlyphs" >THOC3</text>
<text x="453.80" y="55.12" font-size="9.6" fill="#1e2a20" text-anchor="start" stroke="#1e2a20" stroke-width="0.12" textLength="27.11" lengthAdjust="spacingAndGlyphs" >THOC5</text>
<text x="453.80" y="63.15" font-size="9.6" fill="#1e2a20" text-anchor="start" stroke="#1e2a20" stroke-width="0.12" textLength="27.11" lengthAdjust="spacingAndGlyphs" >THOC6</text>
<text x="453.80" y="71.18" font-size="9.6" fill="#1e2a20" text-anchor="start" stroke="#1e2a20" stroke-width="0.12" textLength="27.11" lengthAdjust="spacingAndGlyphs" >THOC7</text>
<ellipse cx="491" cy="44.7" rx="6.5" ry="18.3" transform="rotate(-3 491 44.7)" fill="#d9e7da"/>
<ellipse cx="507.3" cy="45.8" rx="7" ry="21" transform="rotate(19.4 507.3 45.8)" fill="#dcdcf2"/>
<rect x="490.00" y="69.40" width="28.40" height="64.52" fill="#dedef2"/>
<text x="491.50" y="76.49" font-size="9.6" fill="#1e1e48" text-anchor="start" stroke="#1e1e48" stroke-width="0.12" textLength="20.89" lengthAdjust="spacingAndGlyphs" >CCT1</text>
<text x="491.50" y="84.48" font-size="9.6" fill="#1e1e48" text-anchor="start" stroke="#1e1e48" stroke-width="0.12" textLength="20.89" lengthAdjust="spacingAndGlyphs" >CCT2</text>
<text x="491.50" y="92.47" font-size="9.6" fill="#1e1e48" text-anchor="start" stroke="#1e1e48" stroke-width="0.12" textLength="20.89" lengthAdjust="spacingAndGlyphs" >CCT3</text>
<text x="491.50" y="100.46" font-size="9.6" fill="#1e1e48" text-anchor="start" stroke="#1e1e48" stroke-width="0.12" textLength="20.89" lengthAdjust="spacingAndGlyphs" >CCT4</text>
<text x="491.50" y="108.45" font-size="9.6" fill="#1e1e48" text-anchor="start" stroke="#1e1e48" stroke-width="0.12" textLength="20.89" lengthAdjust="spacingAndGlyphs" >CCT5</text>
<text x="491.50" y="116.44" font-size="9.6" fill="#1e1e48" text-anchor="start" stroke="#1e1e48" stroke-width="0.12" textLength="26.22" lengthAdjust="spacingAndGlyphs" >CCT6A</text>
<text x="491.50" y="124.43" font-size="9.6" fill="#1e1e48" text-anchor="start" stroke="#1e1e48" stroke-width="0.12" textLength="20.89" lengthAdjust="spacingAndGlyphs" >CCT7</text>
<text x="491.50" y="132.42" font-size="9.6" fill="#1e1e48" text-anchor="start" stroke="#1e1e48" stroke-width="0.12" textLength="20.89" lengthAdjust="spacingAndGlyphs" >CCT8</text>
<text x="411.00" y="47.50" font-size="9.6" fill="#231f20" text-anchor="start" stroke="#231f20" stroke-width="0.25" textLength="34.00" lengthAdjust="spacingAndGlyphs" >POLDIP3</text>
<circle cx="449.20" cy="44.20" r="1.45" fill="#111"/>
<circle cx="488.40" cy="31.60" r="1.45" fill="#111"/>
<circle cx="491.10" cy="32.50" r="1.45" fill="#111"/>
<circle cx="495.30" cy="38.50" r="1.45" fill="#111"/>
<circle cx="494.30" cy="42.70" r="1.45" fill="#111"/>
<circle cx="492.20" cy="44.20" r="1.45" fill="#111"/>
<circle cx="490.10" cy="49.40" r="1.45" fill="#111"/>
<circle cx="488.00" cy="56.80" r="1.45" fill="#111"/>
<circle cx="511.00" cy="28.50" r="1.45" fill="#111"/>
<circle cx="512.00" cy="30.60" r="1.45" fill="#111"/>
<circle cx="507.50" cy="41.50" r="1.45" fill="#111"/>
<circle cx="511.00" cy="48.40" r="1.45" fill="#111"/>
<circle cx="509.00" cy="54.70" r="1.45" fill="#111"/>
<circle cx="504.30" cy="56.80" r="1.45" fill="#111"/>
<circle cx="502.20" cy="64.10" r="1.45" fill="#111"/>
<path d="M381.9 386.6h.01M373.0 376.3h.01M385.0 376.6h.01M385.2 376.4h.01M374.9 371.6h.01M396.8 369.1h.01M385.1 388.9h.01M365.3 376.7h.01M376.6 376.9h.01M374.1 384.2h.01M380.0 386.7h.01M366.1 380.0h.01M367.1 383.4h.01M373.7 393.4h.01M388.8 376.3h.01M372.1 387.2h.01M379.5 390.2h.01M383.3 374.8h.01M385.4 377.3h.01M365.8 367.2h.01M372.7 401.1h.01M378.4 376.8h.01M370.6 377.6h.01M370.3 392.8h.01M389.4 376.5h.01M380.2 389.3h.01M378.9 388.5h.01M377.0 392.5h.01M378.0 389.2h.01M371.0 387.4h.01M377.6 381.4h.01M376.6 382.1h.01M374.5 376.5h.01M395.2 378.0h.01M396.2 387.5h.01M390.3 365.9h.01M361.5 392.5h.01M396.7 386.7h.01M389.2 378.9h.01M372.8 384.1h.01M371.1 378.2h.01M384.8 385.3h.01M385.5 383.3h.01M384.9 387.5h.01M366.1 377.2h.01M370.8 390.9h.01M385.2 377.6h.01M382.9 380.6h.01M391.2 378.6h.01M364.0 385.6h.01M380.4 376.8h.01M379.0 382.2h.01M363.2 390.5h.01M393.5 376.0h.01M385.0 375.1h.01M377.3 380.0h.01M376.9 381.7h.01M380.9 387.9h.01M367.5 365.7h.01M388.5 378.6h.01M380.1 393.8h.01M376.4 381.4h.01M365.9 385.3h.01M407.3 371.2h.01M382.2 368.7h.01M384.8 380.9h.01M375.8 389.6h.01M378.0 377.7h.01M363.7 396.4h.01M378.0 380.2h.01M392.4 387.2h.01M374.0 381.2h.01M400.6 386.3h.01M394.2 395.0h.01M383.0 370.2h.01M392.9 387.7h.01M376.2 380.1h.01M387.2 367.3h.01M381.8 380.0h.01M380.8 385.6h.01M384.3 386.7h.01M393.6 375.2h.01M397.9 374.5h.01M376.9 375.5h.01M367.6 372.4h.01M381.2 389.4h.01M389.7 399.4h.01M363.6 389.7h.01M371.2 388.5h.01M378.9 382.9h.01M381.8 373.7h.01M371.7 380.0h.01M374.6 377.5h.01M387.4 401.5h.01M367.3 390.6h.01M384.2 391.3h.01M372.5 395.5h.01M400.0 380.4h.01M380.2 385.5h.01M396.7 393.0h.01M379.5 384.0h.01M372.3 380.4h.01M368.6 381.3h.01M383.2 369.8h.01M391.0 385.8h.01M390.3 395.3h.01M377.5 368.7h.01M381.5 376.8h.01M383.3 375.3h.01M383.9 391.5h.01M381.6 385.0h.01M394.7 376.0h.01M368.9 375.5h.01M379.6 376.5h.01M381.6 373.3h.01M389.3 371.2h.01M383.3 383.3h.01M381.0 398.9h.01M370.5 380.4h.01M384.6 379.8h.01M380.4 379.6h.01M390.2 377.1h.01M380.2 382.0h.01M373.6 386.0h.01M377.1 376.8h.01M378.9 395.4h.01M381.0 372.9h.01M387.4 376.0h.01M380.7 392.0h.01M386.6 384.7h.01M380.6 408.1h.01M373.9 375.2h.01M382.0 373.4h.01M389.2 382.4h.01M385.9 371.4h.01M386.6 377.5h.01M394.0 391.3h.01M384.1 376.3h.01M388.7 374.2h.01M388.6 388.9h.01M386.7 383.0h.01M392.3 375.7h.01M387.8 366.7h.01M373.5 383.2h.01M385.4 389.0h.01M373.9 377.9h.01M375.0 387.4h.01M376.5 367.9h.01M366.6 377.3h.01M393.4 386.4h.01M388.3 394.9h.01M376.3 399.0h.01M377.7 392.1h.01M388.0 385.7h.01M383.3 380.5h.01M383.7 387.9h.01M372.7 388.6h.01M384.6 388.8h.01M386.6 362.9h.01M376.7 364.6h.01M384.2 388.4h.01M389.8 378.3h.01M383.5 368.7h.01M386.4 373.5h.01M363.9 405.7h.01M380.6 387.2h.01M379.9 377.6h.01M375.6 369.9h.01M389.6 384.0h.01M389.8 393.9h.01M382.2 374.1h.01M380.3 382.4h.01M392.8 384.0h.01M369.6 376.2h.01M382.5 396.7h.01M358.9 403.2h.01M379.1 387.8h.01M386.4 371.1h.01M392.7 352.5h.01M392.9 376.5h.01M389.6 384.8h.01M384.8 377.8h.01M375.1 387.5h.01M382.8 375.7h.01M385.8 379.7h.01M381.8 380.2h.01M390.3 378.6h.01M389.4 371.4h.01M373.0 386.6h.01M368.3 375.1h.01M389.2 388.5h.01M373.9 384.6h.01M359.4 368.5h.01M376.4 382.7h.01M388.1 388.0h.01M395.7 371.2h.01M385.7 377.7h.01M380.3 384.7h.01M371.5 395.9h.01M381.4 377.3h.01M368.6 373.4h.01M369.9 386.2h.01M381.4 373.2h.01M368.6 383.5h.01M370.0 385.6h.01M399.7 390.4h.01M375.3 392.2h.01M390.6 392.1h.01M370.0 389.9h.01M397.4 381.7h.01M376.1 379.9h.01M339.7 400.0h.01M380.8 383.4h.01M388.4 373.1h.01M392.1 386.7h.01M379.4 366.9h.01M394.5 376.3h.01M383.9 390.1h.01M391.7 384.6h.01M363.9 370.4h.01M393.0 386.5h.01M372.5 377.0h.01M369.3 385.5h.01M369.4 378.2h.01M392.1 373.3h.01M395.5 369.6h.01M392.2 375.1h.01M364.2 375.2h.01M375.0 376.8h.01M389.1 405.4h.01M365.6 380.5h.01M385.8 380.6h.01M395.3 382.9h.01M386.3 393.4h.01M382.6 391.7h.01M378.2 376.4h.01M370.9 358.4h.01M372.4 394.9h.01M389.1 391.9h.01M391.8 389.5h.01M387.2 387.5h.01M384.2 375.9h.01M386.2 376.9h.01M409.2 367.5h.01M384.6 386.2h.01M389.5 373.4h.01M411.3 369.0h.01M370.3 399.0h.01M389.7 371.7h.01M376.8 388.4h.01M397.0 383.6h.01M380.4 391.1h.01M395.0 371.1h.01M378.0 383.4h.01M359.9 395.8h.01M386.4 391.4h.01M395.5 377.2h.01M390.7 375.7h.01M373.9 380.1h.01M380.7 371.5h.01M380.1 399.0h.01M404.1 385.1h.01M383.4 385.4h.01M384.1 393.6h.01M373.8 379.3h.01M369.4 378.9h.01M378.0 377.1h.01M373.1 378.4h.01M377.0 389.3h.01M384.2 375.7h.01M380.3 404.3h.01M386.3 384.6h.01M391.6 373.9h.01M375.1 388.7h.01M391.5 379.8h.01M372.4 388.7h.01M381.6 392.0h.01M400.5 392.2h.01M394.1 377.2h.01M376.6 376.7h.01M387.3 406.9h.01M363.6 377.6h.01M395.6 359.1h.01M382.7 368.6h.01M368.3 397.2h.01M362.8 373.1h.01M390.0 389.0h.01M384.3 373.6h.01M371.0 404.8h.01M392.5 372.7h.01M383.1 386.8h.01M378.5 377.3h.01M371.9 388.3h.01M377.5 390.0h.01M386.0 383.9h.01M381.0 377.5h.01M380.0 402.1h.01M394.6 392.9h.01M401.0 388.4h.01M398.3 379.4h.01M386.1 381.7h.01M375.1 385.8h.01M386.5 387.8h.01M387.2 393.9h.01M385.9 385.8h.01M378.5 391.4h.01M369.8 396.7h.01M370.5 383.2h.01M381.0 385.0h.01M361.7 379.0h.01M377.7 385.2h.01M369.1 389.0h.01M393.7 367.3h.01M394.5 375.8h.01M375.5 390.6h.01M377.4 398.5h.01M368.4 398.5h.01M387.7 377.1h.01M369.3 390.2h.01M388.3 372.2h.01M380.5 387.4h.01M370.7 380.4h.01M359.1 384.9h.01M381.9 380.9h.01M393.1 375.2h.01M394.3 388.9h.01M387.3 390.5h.01M373.2 386.5h.01M376.5 393.6h.01M388.2 363.5h.01M378.6 378.3h.01M387.8 379.3h.01M394.8 380.5h.01M384.4 383.6h.01M390.7 370.3h.01M390.5 391.0h.01M374.8 376.2h.01M374.7 389.1h.01M386.1 376.1h.01M406.6 377.5h.01M386.5 367.9h.01M391.9 390.4h.01M371.4 387.9h.01M383.0 384.1h.01M382.5 385.3h.01M369.7 405.6h.01M387.5 383.4h.01M379.5 379.4h.01M396.9 362.4h.01M385.4 377.8h.01M374.3 377.7h.01M380.1 391.9h.01M381.9 397.3h.01M386.3 387.0h.01M373.3 380.6h.01M374.9 388.3h.01M397.3 373.3h.01M381.4 384.6h.01M391.8 391.5h.01M375.3 379.8h.01M382.0 394.8h.01M386.8 366.6h.01M370.0 389.4h.01M357.7 384.7h.01M377.7 374.2h.01M347.9 394.8h.01M383.5 380.2h.01M393.9 371.8h.01M363.2 384.1h.01M375.7 380.3h.01M365.8 380.0h.01M377.5 385.2h.01M360.4 391.7h.01M375.0 402.2h.01M383.5 372.4h.01M372.9 405.2h.01M378.1 397.7h.01M388.5 368.4h.01M383.1 406.7h.01M399.1 382.5h.01M388.4 379.5h.01M388.9 400.3h.01M358.0 391.0h.01M388.7 379.5h.01M395.3 371.9h.01M384.6 380.1h.01M386.3 375.9h.01M362.6 376.2h.01M376.7 383.3h.01M374.4 377.4h.01M390.1 375.7h.01M377.6 392.7h.01M371.8 376.7h.01M371.4 403.5h.01M381.3 380.8h.01M386.3 373.9h.01M379.6 368.2h.01M382.4 368.2h.01M364.2 376.0h.01M389.6 391.2h.01M380.8 382.3h.01M384.6 394.4h.01M391.5 393.5h.01M376.9 376.8h.01M373.3 389.3h.01M383.9 379.9h.01M379.3 397.4h.01M394.8 394.6h.01M384.1 400.5h.01M380.8 393.7h.01M388.2 373.2h.01M362.7 391.0h.01M377.0 369.0h.01M394.0 377.7h.01M394.5 399.9h.01M378.3 383.7h.01M380.0 391.7h.01M391.8 380.1h.01M393.1 375.2h.01M379.3 383.7h.01M382.7 382.0h.01M392.8 373.1h.01M371.4 383.1h.01M373.1 399.2h.01M362.9 380.2h.01M381.9 386.3h.01M367.8 379.1h.01M364.9 386.8h.01M385.5 375.8h.01M382.1 359.5h.01M399.1 358.9h.01M401.1 386.1h.01M345.3 408.3h.01M414.6 363.1h.01M411.0 355.7h.01M392.4 394.2h.01M378.1 389.5h.01M368.5 381.0h.01M416.0 352.4h.01M391.1 382.4h.01M371.9 390.3h.01M389.9 382.3h.01M383.0 423.0h.01M347.7 411.2h.01M371.3 405.4h.01M381.7 415.2h.01M405.1 376.0h.01M386.1 368.8h.01M370.4 374.8h.01M386.0 391.7h.01M366.0 401.7h.01M392.6 394.8h.01M381.7 372.6h.01M422.2 378.7h.01M395.8 365.9h.01M369.2 376.6h.01M382.5 392.7h.01M364.4 370.7h.01M351.5 397.3h.01M361.7 398.4h.01M362.8 380.3h.01M344.7 385.4h.01M384.4 387.8h.01M352.4 385.0h.01M393.1 341.7h.01M351.9 367.1h.01M377.1 395.8h.01M383.9 385.3h.01M370.8 379.3h.01M370.2 396.9h.01M366.0 391.2h.01M389.5 378.1h.01M394.5 395.5h.01M377.2 383.6h.01M393.9 371.6h.01M373.5 410.7h.01M360.9 407.6h.01M395.0 381.9h.01M367.0 396.3h.01M421.4 380.1h.01M414.7 356.2h.01M389.9 354.9h.01M392.7 390.6h.01M365.9 364.1h.01M380.2 361.2h.01M362.9 380.2h.01M395.7 393.6h.01M359.4 401.1h.01M391.8 385.9h.01M401.3 356.9h.01M368.2 359.9h.01M339.4 381.3h.01M384.7 362.5h.01M371.7 369.1h.01M355.5 396.3h.01M370.6 393.2h.01M366.7 410.8h.01M359.0 366.5h.01M348.6 402.9h.01M400.6 405.5h.01M369.3 366.2h.01M421.7 344.0h.01M342.6 396.2h.01M359.4 370.1h.01M397.5 384.8h.01M361.8 393.7h.01M394.4 402.5h.01M396.3 375.4h.01M390.1 370.0h.01M380.8 395.1h.01M388.8 368.3h.01M365.0 382.8h.01M408.5 364.7h.01M387.8 380.8h.01M387.9 377.6h.01M395.9 368.4h.01M391.8 371.2h.01M395.8 397.0h.01M419.5 371.1h.01M369.2 386.9h.01M366.0 412.5h.01M394.4 401.2h.01M387.2 405.4h.01M369.4 401.9h.01M388.5 360.7h.01M398.5 379.8h.01M406.0 414.1h.01M365.3 402.9h.01M392.0 381.5h.01M412.4 372.2h.01M367.5 403.3h.01M367.3 416.9h.01M382.4 395.0h.01M348.6 405.0h.01M399.8 378.2h.01M373.0 386.0h.01M368.5 389.2h.01M418.2 403.7h.01M365.0 364.6h.01M362.9 385.3h.01M419.0 389.7h.01M398.0 363.9h.01M385.4 376.0h.01M364.0 396.2h.01M369.3 358.4h.01M433.3 372.9h.01M402.3 386.7h.01M381.0 378.6h.01M351.7 411.9h.01M400.3 358.6h.01M405.6 394.7h.01M351.7 375.3h.01M402.4 397.9h.01M389.9 363.1h.01M390.2 369.2h.01M420.3 347.0h.01M404.1 365.7h.01M406.6 368.0h.01M379.2 378.5h.01M380.1 386.9h.01M403.7 372.6h.01M396.9 359.0h.01M354.3 369.7h.01M368.1 390.2h.01M387.3 382.7h.01M386.5 391.5h.01M380.0 389.5h.01M381.5 393.1h.01M375.1 390.8h.01M355.0 389.3h.01M384.8 358.8h.01M389.1 364.3h.01M384.7 383.5h.01M348.0 389.1h.01M394.8 371.4h.01M355.8 405.6h.01M394.5 397.7h.01M388.2 374.7h.01M400.8 367.2h.01M354.0 388.4h.01M365.9 360.0h.01M366.6 356.3h.01M396.1 398.7h.01M410.5 374.1h.01M363.6 405.2h.01M375.9 382.2h.01M381.9 393.7h.01M367.8 378.8h.01M373.1 390.9h.01M378.5 382.5h.01M369.2 407.7h.01M412.9 382.0h.01M392.5 395.1h.01M397.8 397.2h.01M383.8 385.4h.01M384.0 386.8h.01M363.5 373.9h.01M374.1 367.8h.01M397.0 389.7h.01M371.2 383.3h.01M437.1 344.0h.01M432.7 346.1h.01M420.7 354.3h.01M401.0 372.7h.01M422.1 370.1h.01M435.3 335.0h.01M427.9 363.7h.01M414.0 359.4h.01M426.2 361.9h.01M425.2 346.4h.01M419.1 371.7h.01M404.1 365.9h.01M403.6 363.3h.01M428.4 370.1h.01M410.6 369.6h.01M401.3 373.9h.01M415.2 363.4h.01M415.9 358.1h.01M426.1 369.6h.01M414.5 350.8h.01M410.7 361.1h.01M410.1 358.4h.01M428.1 353.2h.01M418.7 361.4h.01M424.7 367.7h.01M418.7 364.5h.01M409.4 353.7h.01M400.3 377.2h.01M405.0 369.4h.01M414.8 360.1h.01M330.8 329.2h.01M346.2 339.9h.01M327.8 357.0h.01M309.2 409.1h.01M450.9 392.3h.01M430.8 392.7h.01M418.4 398.6h.01M395.3 438.5h.01M363.0 334.9h.01M389.1 334.9h.01M429.3 346.2h.01M395.6 426.4h.01M395.6 437.8h.01M402.1 422.1h.01M408.3 423.1h.01M423.1 349.0h.01M429.3 351.1h.01M410.4 351.1h.01M327.2 398.6h.01M333.1 387.8h.01M345.0 386.8h.01M342.0 400.5h.01M353.9 408.4h.01M321.3 377.0h.01M336.1 369.1h.01M350.9 359.4h.01M356.8 349.6h.01M439.7 373.1h.01M442.7 363.3h.01M436.7 353.5h.01M416.0 341.7h.01M407.1 337.8h.01M380.5 427.9h.01M386.4 420.1h.01M371.6 416.2h.01M362.7 412.3h.01M413.1 412.3h.01M424.9 406.4h.01M454.5 394.6h.01" stroke="#a2d0de" stroke-width="2.40" stroke-linecap="round" fill="none" opacity="1.0"/>
<line x1="302" y1="388.5" x2="518" y2="388.5" stroke="#e9969c" stroke-width="1"/>
<line x1="380.5" y1="285" x2="380.5" y2="478" stroke="#d49aa2" stroke-width="1"/>
<rect x="301.5" y="284.5" width="217" height="194" fill="none" stroke="#8a8a8a" stroke-width="1"/>
<line x1="321.30" y1="478.5" x2="321.30" y2="482.5" stroke="#8a8a8a" stroke-width="1"/>
<text x="319.70" y="492.30" font-size="8.8" fill="#231f20" text-anchor="middle" stroke="#231f20" stroke-width="0.18" >−2</text>
<line x1="350.90" y1="478.5" x2="350.90" y2="482.5" stroke="#8a8a8a" stroke-width="1"/>
<text x="349.30" y="492.30" font-size="8.8" fill="#231f20" text-anchor="middle" stroke="#231f20" stroke-width="0.18" >−1</text>
<line x1="380.50" y1="478.5" x2="380.50" y2="482.5" stroke="#8a8a8a" stroke-width="1"/>
<text x="380.50" y="492.30" font-size="8.8" fill="#231f20" text-anchor="middle" stroke="#231f20" stroke-width="0.18" >0</text>
<line x1="410.10" y1="478.5" x2="410.10" y2="482.5" stroke="#8a8a8a" stroke-width="1"/>
<text x="410.10" y="492.30" font-size="8.8" fill="#231f20" text-anchor="middle" stroke="#231f20" stroke-width="0.18" >1</text>
<line x1="439.70" y1="478.5" x2="439.70" y2="482.5" stroke="#8a8a8a" stroke-width="1"/>
<text x="439.70" y="492.30" font-size="8.8" fill="#231f20" text-anchor="middle" stroke="#231f20" stroke-width="0.18" >2</text>
<line x1="469.30" y1="478.5" x2="469.30" y2="482.5" stroke="#8a8a8a" stroke-width="1"/>
<text x="469.30" y="492.30" font-size="8.8" fill="#231f20" text-anchor="middle" stroke="#231f20" stroke-width="0.18" >3</text>
<line x1="498.90" y1="478.5" x2="498.90" y2="482.5" stroke="#8a8a8a" stroke-width="1"/>
<text x="498.90" y="492.30" font-size="8.8" fill="#231f20" text-anchor="middle" stroke="#231f20" stroke-width="0.18" >4</text>
<line x1="297" y1="467.15" x2="301.5" y2="467.15" stroke="#8a8a8a" stroke-width="1"/>
<text x="294.80" y="471.35" font-size="8.8" fill="#231f20" text-anchor="end" stroke="#231f20" stroke-width="0.18" >−4</text>
<line x1="297" y1="427.95" x2="301.5" y2="427.95" stroke="#8a8a8a" stroke-width="1"/>
<text x="294.80" y="432.15" font-size="8.8" fill="#231f20" text-anchor="end" stroke="#231f20" stroke-width="0.18" >−2</text>
<line x1="297" y1="388.75" x2="301.5" y2="388.75" stroke="#8a8a8a" stroke-width="1"/>
<text x="294.80" y="392.95" font-size="8.8" fill="#231f20" text-anchor="end" stroke="#231f20" stroke-width="0.18" >0</text>
<line x1="297" y1="349.55" x2="301.5" y2="349.55" stroke="#8a8a8a" stroke-width="1"/>
<text x="294.80" y="353.75" font-size="8.8" fill="#231f20" text-anchor="end" stroke="#231f20" stroke-width="0.18" >2</text>
<line x1="297" y1="310.35" x2="301.5" y2="310.35" stroke="#8a8a8a" stroke-width="1"/>
<text x="294.80" y="314.55" font-size="8.8" fill="#231f20" text-anchor="end" stroke="#231f20" stroke-width="0.18" >4</text>
<g transform="translate(360.50,506.60)"><text x="0.00" y="0.00" font-size="10" fill="#231f20" stroke="#231f20" stroke-width="0.2" textLength="10.40" lengthAdjust="spacingAndGlyphs">log</text><text x="11.00" y="2.20" font-size="6.5" fill="#231f20" stroke="#231f20" stroke-width="0.2" textLength="2.80" lengthAdjust="spacingAndGlyphs">2</text><text x="15.20" y="0.60" font-size="11.5" fill="#231f20" stroke="#231f20" stroke-width="0.2" textLength="3.20" lengthAdjust="spacingAndGlyphs">(</text><text x="19.60" y="0.00" font-size="10" fill="#231f20" stroke="#231f20" stroke-width="0.2" textLength="28.70" lengthAdjust="spacingAndGlyphs">Ratio H</text><text x="52.30" y="0.00" font-size="10" fill="#231f20" stroke="#231f20" stroke-width="0.2" textLength="2.80" lengthAdjust="spacingAndGlyphs">/</text><text x="56.40" y="0.00" font-size="10" fill="#231f20" stroke="#231f20" stroke-width="0.2" textLength="35.60" lengthAdjust="spacingAndGlyphs">L forward</text><text x="95.90" y="0.60" font-size="11.5" fill="#231f20" stroke="#231f20" stroke-width="0.2" textLength="3.00" lengthAdjust="spacingAndGlyphs">)</text></g>
<g transform="translate(278.20,432.20) rotate(-90)"><text x="0.00" y="0.00" font-size="10" fill="#231f20" stroke="#231f20" stroke-width="0.2" textLength="12.10" lengthAdjust="spacingAndGlyphs">log</text><text x="12.70" y="2.20" font-size="6.5" fill="#231f20" stroke="#231f20" stroke-width="0.2" textLength="2.80" lengthAdjust="spacingAndGlyphs">2</text><text x="16.10" y="0.60" font-size="11.5" fill="#231f20" stroke="#231f20" stroke-width="0.2" textLength="3.40" lengthAdjust="spacingAndGlyphs">(</text><text x="20.60" y="0.00" font-size="10" fill="#231f20" stroke="#231f20" stroke-width="0.2" textLength="25.80" lengthAdjust="spacingAndGlyphs">Ratio L</text><text x="49.90" y="0.00" font-size="10" fill="#231f20" stroke="#231f20" stroke-width="0.2" textLength="3.50" lengthAdjust="spacingAndGlyphs">/</text><text x="54.50" y="0.00" font-size="10" fill="#231f20" stroke="#231f20" stroke-width="0.2" textLength="36.00" lengthAdjust="spacingAndGlyphs">H reverse</text><text x="94.70" y="0.60" font-size="11.5" fill="#231f20" stroke="#231f20" stroke-width="0.2" textLength="3.20" lengthAdjust="spacingAndGlyphs">)</text></g>
<text x="271.60" y="274.30" font-size="17.5" fill="#231f20" text-anchor="start" stroke="#231f20" stroke-width="0.9" textLength="10.50" lengthAdjust="spacingAndGlyphs" >D</text>
<text x="343.80" y="275.60" font-size="13.6" fill="#231f20" text-anchor="start" stroke="#231f20" stroke-width="0.15" textLength="131.90" lengthAdjust="spacingAndGlyphs" >bait: THOC1–THOC7</text>
<rect x="348.80" y="287.00" width="28.80" height="47.40" fill="#dde9df"/>
<text x="350.30" y="293.90" font-size="9.6" fill="#1e2a20" text-anchor="start" stroke="#1e2a20" stroke-width="0.12" textLength="27.11" lengthAdjust="spacingAndGlyphs" >THOC1</text>
<text x="350.30" y="301.70" font-size="9.6" fill="#1e2a20" text-anchor="start" stroke="#1e2a20" stroke-width="0.12" textLength="27.11" lengthAdjust="spacingAndGlyphs" >THOC2</text>
<text x="350.30" y="309.50" font-size="9.6" fill="#1e2a20" text-anchor="start" stroke="#1e2a20" stroke-width="0.12" textLength="27.11" lengthAdjust="spacingAndGlyphs" >THOC3</text>
<text x="350.30" y="317.30" font-size="9.6" fill="#1e2a20" text-anchor="start" stroke="#1e2a20" stroke-width="0.12" textLength="27.11" lengthAdjust="spacingAndGlyphs" >THOC5</text>
<text x="350.30" y="325.10" font-size="9.6" fill="#1e2a20" text-anchor="start" stroke="#1e2a20" stroke-width="0.12" textLength="27.11" lengthAdjust="spacingAndGlyphs" >THOC6</text>
<text x="350.30" y="332.90" font-size="9.6" fill="#1e2a20" text-anchor="start" stroke="#1e2a20" stroke-width="0.12" textLength="27.11" lengthAdjust="spacingAndGlyphs" >THOC7</text>
<circle cx="478.6" cy="294.1" r="6.8" fill="#dce8de"/>
<path d="M485.5 297.2 C500 298 512.8 309 512.6 322.5 C512.3 336 497 344 480.2 341.8 C488 337 494.5 330 494.5 321.5 C494.3 311 491 302 485.5 297.2 Z" fill="#dadaf4"/>
<rect x="488.30" y="393.30" width="28.00" height="62.84" fill="#dedef2"/>
<text x="489.80" y="400.18" font-size="9.6" fill="#1e1e48" text-anchor="start" stroke="#1e1e48" stroke-width="0.12" textLength="20.89" lengthAdjust="spacingAndGlyphs" >CCT1</text>
<text x="489.80" y="407.96" font-size="9.6" fill="#1e1e48" text-anchor="start" stroke="#1e1e48" stroke-width="0.12" textLength="20.89" lengthAdjust="spacingAndGlyphs" >CCT2</text>
<text x="489.80" y="415.74" font-size="9.6" fill="#1e1e48" text-anchor="start" stroke="#1e1e48" stroke-width="0.12" textLength="20.89" lengthAdjust="spacingAndGlyphs" >CCT3</text>
<text x="489.80" y="423.52" font-size="9.6" fill="#1e1e48" text-anchor="start" stroke="#1e1e48" stroke-width="0.12" textLength="20.89" lengthAdjust="spacingAndGlyphs" >CCT4</text>
<text x="489.80" y="431.30" font-size="9.6" fill="#1e1e48" text-anchor="start" stroke="#1e1e48" stroke-width="0.12" textLength="20.89" lengthAdjust="spacingAndGlyphs" >CCT5</text>
<text x="489.80" y="439.08" font-size="9.6" fill="#1e1e48" text-anchor="start" stroke="#1e1e48" stroke-width="0.12" textLength="26.22" lengthAdjust="spacingAndGlyphs" >CCT6A</text>
<text x="489.80" y="446.86" font-size="9.6" fill="#1e1e48" text-anchor="start" stroke="#1e1e48" stroke-width="0.12" textLength="20.89" lengthAdjust="spacingAndGlyphs" >CCT7</text>
<text x="489.80" y="454.64" font-size="9.6" fill="#1e1e48" text-anchor="start" stroke="#1e1e48" stroke-width="0.12" textLength="20.89" lengthAdjust="spacingAndGlyphs" >CCT8</text>
<line x1="380" y1="295" x2="464" y2="295" stroke="#333" stroke-width="0.6"/>
<path d="M468 295 L462 292.8 L462 297.2 Z" fill="#222"/>
<line x1="502.2" y1="393" x2="497.5" y2="350" stroke="#333" stroke-width="0.6"/>
<path d="M497 345.5 L495.4 351.8 L499.6 351.4 Z" fill="#222"/>
<text x="388.80" y="311.30" font-size="9.6" fill="#231f20" text-anchor="start" stroke="#231f20" stroke-width="0.25" textLength="35.00" lengthAdjust="spacingAndGlyphs" >POLDIP3</text>
<text x="430.00" y="308.20" font-size="9.6" fill="#231f20" text-anchor="start" stroke="#231f20" stroke-width="0.25" textLength="18.00" lengthAdjust="spacingAndGlyphs" >BAT1</text>
<text x="403.80" y="322.20" font-size="9.6" fill="#231f20" text-anchor="start" stroke="#231f20" stroke-width="0.25" textLength="18.70" lengthAdjust="spacingAndGlyphs" >ARS2</text>
<text x="427.00" y="326.40" font-size="9.6" fill="#231f20" text-anchor="start" stroke="#231f20" stroke-width="0.25" textLength="30.00" lengthAdjust="spacingAndGlyphs" >ZC3H14</text>
<text x="460.00" y="325.20" font-size="9.6" fill="#231f20" text-anchor="start" stroke="#231f20" stroke-width="0.25" textLength="25.80" lengthAdjust="spacingAndGlyphs" >AKAP9</text>
<text x="407.50" y="337.70" font-size="9.6" fill="#231f20" text-anchor="start" stroke="#231f20" stroke-width="0.25" textLength="30.00" lengthAdjust="spacingAndGlyphs" >BCLAF1</text>
<text x="438.80" y="340.20" font-size="9.6" fill="#231f20" text-anchor="start" stroke="#231f20" stroke-width="0.25" textLength="27.50" lengthAdjust="spacingAndGlyphs" >DDX39</text>
<circle cx="456.20" cy="305.80" r="1.45" fill="#111"/>
<circle cx="419.30" cy="313.00" r="1.45" fill="#111"/>
<circle cx="426.30" cy="318.00" r="1.45" fill="#111"/>
<circle cx="433.80" cy="327.50" r="1.45" fill="#111"/>
<circle cx="438.80" cy="328.30" r="1.45" fill="#111"/>
<circle cx="453.80" cy="330.50" r="1.45" fill="#111"/>
<circle cx="489.40" cy="321.90" r="1.45" fill="#111"/>
<circle cx="474.10" cy="295.80" r="1.45" fill="#111"/>
<circle cx="481.50" cy="291.80" r="1.45" fill="#111"/>
<circle cx="482.00" cy="293.50" r="1.45" fill="#111"/>
<circle cx="481.80" cy="296.40" r="1.45" fill="#111"/>
<circle cx="494.80" cy="302.60" r="1.45" fill="#111"/>
<circle cx="498.00" cy="308.90" r="1.45" fill="#111"/>
<circle cx="499.10" cy="309.80" r="1.45" fill="#111"/>
<circle cx="498.00" cy="319.10" r="1.45" fill="#111"/>
<circle cx="500.20" cy="318.20" r="1.45" fill="#111"/>
<circle cx="510.20" cy="319.30" r="1.45" fill="#111"/>
<circle cx="491.70" cy="336.10" r="1.45" fill="#111"/>
<circle cx="483.80" cy="338.40" r="1.45" fill="#111"/>
<text x="1.00" y="274.30" font-size="17.5" fill="#231f20" text-anchor="start" stroke="#231f20" stroke-width="0.9" textLength="10.50" lengthAdjust="spacingAndGlyphs" >C</text>
<g>
<rect x="77.00" y="315.00" width="8.13" height="4.07" fill="rgb(255, 135, 0)"/>
<rect x="85.13" y="315.00" width="8.13" height="4.07" fill="rgb(240, 30, 10)"/>
<rect x="93.26" y="315.00" width="8.13" height="4.07" fill="rgb(255, 190, 0)"/>
<rect x="101.39" y="315.00" width="8.13" height="4.07" fill="rgb(250, 75, 0)"/>
<rect x="109.52" y="315.00" width="8.13" height="4.07" fill="rgb(240, 30, 10)"/>
<rect x="117.65" y="315.00" width="8.13" height="4.07" fill="rgb(255, 135, 0)"/>
<rect x="125.78" y="315.00" width="8.13" height="4.07" fill="rgb(10, 10, 140)"/>
<rect x="77.00" y="319.07" width="8.13" height="4.07" fill="rgb(255, 135, 0)"/>
<rect x="85.13" y="319.07" width="8.13" height="4.07" fill="rgb(240, 30, 10)"/>
<rect x="93.26" y="319.07" width="8.13" height="4.07" fill="rgb(255, 135, 0)"/>
<rect x="101.39" y="319.07" width="8.13" height="4.07" fill="rgb(250, 75, 0)"/>
<rect x="109.52" y="319.07" width="8.13" height="4.07" fill="rgb(240, 30, 10)"/>
<rect x="117.65" y="319.07" width="8.13" height="4.07" fill="rgb(250, 75, 0)"/>
<rect x="125.78" y="319.07" width="8.13" height="4.07" fill="rgb(88, 88, 112)"/>
<rect x="77.00" y="323.14" width="8.13" height="4.07" fill="rgb(255, 135, 0)"/>
<rect x="85.13" y="323.14" width="8.13" height="4.07" fill="rgb(240, 30, 10)"/>
<rect x="93.26" y="323.14" width="8.13" height="4.07" fill="rgb(255, 135, 0)"/>
<rect x="101.39" y="323.14" width="8.13" height="4.07" fill="rgb(250, 75, 0)"/>
<rect x="109.52" y="323.14" width="8.13" height="4.07" fill="rgb(240, 30, 10)"/>
<rect x="117.65" y="323.14" width="8.13" height="4.07" fill="rgb(250, 75, 0)"/>
<rect x="125.78" y="323.14" width="8.13" height="4.07" fill="rgb(135, 128, 70)"/>
<rect x="77.00" y="327.21" width="8.13" height="4.07" fill="rgb(255, 135, 0)"/>
<rect x="85.13" y="327.21" width="8.13" height="4.07" fill="rgb(240, 30, 10)"/>
<rect x="93.26" y="327.21" width="8.13" height="4.07" fill="rgb(255, 135, 0)"/>
<rect x="101.39" y="327.21" width="8.13" height="4.07" fill="rgb(250, 75, 0)"/>
<rect x="109.52" y="327.21" width="8.13" height="4.07" fill="rgb(240, 30, 10)"/>
<rect x="117.65" y="327.21" width="8.13" height="4.07" fill="rgb(250, 75, 0)"/>
<rect x="125.78" y="327.21" width="8.13" height="4.07" fill="rgb(135, 128, 70)"/>
<rect x="77.00" y="331.28" width="8.13" height="4.07" fill="rgb(255, 135, 0)"/>
<rect x="85.13" y="331.28" width="8.13" height="4.07" fill="rgb(240, 30, 10)"/>
<rect x="93.26" y="331.28" width="8.13" height="4.07" fill="rgb(255, 135, 0)"/>
<rect x="101.39" y="331.28" width="8.13" height="4.07" fill="rgb(250, 75, 0)"/>
<rect x="109.52" y="331.28" width="8.13" height="4.07" fill="rgb(240, 30, 10)"/>
<rect x="117.65" y="331.28" width="8.13" height="4.07" fill="rgb(255, 135, 0)"/>
<rect x="125.78" y="331.28" width="8.13" height="4.07" fill="rgb(195, 185, 45)"/>
<rect x="77.00" y="335.35" width="8.13" height="4.07" fill="rgb(255, 135, 0)"/>
<rect x="85.13" y="335.35" width="8.13" height="4.07" fill="rgb(250, 75, 0)"/>
<rect x="93.26" y="335.35" width="8.13" height="4.07" fill="rgb(255, 135, 0)"/>
<rect x="101.39" y="335.35" width="8.13" height="4.07" fill="rgb(250, 75, 0)"/>
<rect x="109.52" y="335.35" width="8.13" height="4.07" fill="rgb(250, 75, 0)"/>
<rect x="117.65" y="335.35" width="8.13" height="4.07" fill="rgb(240, 30, 10)"/>
<rect x="125.78" y="335.35" width="8.13" height="4.07" fill="rgb(135, 128, 70)"/>
<rect x="77.00" y="339.42" width="8.13" height="4.07" fill="rgb(255, 190, 0)"/>
<rect x="85.13" y="339.42" width="8.13" height="4.07" fill="rgb(195, 185, 45)"/>
<rect x="93.26" y="339.42" width="8.13" height="4.07" fill="rgb(255, 190, 0)"/>
<rect x="101.39" y="339.42" width="8.13" height="4.07" fill="rgb(250, 240, 20)"/>
<rect x="109.52" y="339.42" width="8.13" height="4.07" fill="rgb(240, 30, 10)"/>
<rect x="117.65" y="339.42" width="8.13" height="4.07" fill="rgb(255, 190, 0)"/>
<rect x="125.78" y="339.42" width="8.13" height="4.07" fill="rgb(10, 10, 140)"/>
<rect x="77.00" y="343.49" width="8.13" height="4.07" fill="rgb(195, 185, 45)"/>
<rect x="85.13" y="343.49" width="8.13" height="4.07" fill="rgb(250, 240, 20)"/>
<rect x="93.26" y="343.49" width="8.13" height="4.07" fill="rgb(250, 240, 20)"/>
<rect x="101.39" y="343.49" width="8.13" height="4.07" fill="rgb(135, 128, 70)"/>
<rect x="109.52" y="343.49" width="8.13" height="4.07" fill="rgb(255, 190, 0)"/>
<rect x="117.65" y="343.49" width="8.13" height="4.07" fill="rgb(255, 190, 0)"/>
<rect x="125.78" y="343.49" width="8.13" height="4.07" fill="rgb(10, 10, 140)"/>
<rect x="77.00" y="347.56" width="8.13" height="4.07" fill="rgb(250, 240, 20)"/>
<rect x="85.13" y="347.56" width="8.13" height="4.07" fill="rgb(195, 185, 45)"/>
<rect x="93.26" y="347.56" width="8.13" height="4.07" fill="rgb(135, 128, 70)"/>
<rect x="101.39" y="347.56" width="8.13" height="4.07" fill="rgb(195, 185, 45)"/>
<rect x="109.52" y="347.56" width="8.13" height="4.07" fill="rgb(255, 190, 0)"/>
<rect x="117.65" y="347.56" width="8.13" height="4.07" fill="rgb(255, 190, 0)"/>
<rect x="125.78" y="347.56" width="8.13" height="4.07" fill="rgb(250, 240, 20)"/>
<rect x="77.00" y="351.63" width="8.13" height="4.07" fill="rgb(255, 135, 0)"/>
<rect x="85.13" y="351.63" width="8.13" height="4.07" fill="rgb(250, 240, 20)"/>
<rect x="93.26" y="351.63" width="8.13" height="4.07" fill="rgb(10, 10, 140)"/>
<rect x="101.39" y="351.63" width="8.13" height="4.07" fill="rgb(10, 10, 140)"/>
<rect x="109.52" y="351.63" width="8.13" height="4.07" fill="rgb(10, 10, 140)"/>
<rect x="117.65" y="351.63" width="8.13" height="4.07" fill="rgb(10, 10, 140)"/>
<rect x="125.78" y="351.63" width="8.13" height="4.07" fill="rgb(10, 10, 140)"/>
<rect x="77.00" y="355.70" width="8.13" height="4.07" fill="rgb(255, 135, 0)"/>
<rect x="85.13" y="355.70" width="8.13" height="4.07" fill="rgb(250, 240, 20)"/>
<rect x="93.26" y="355.70" width="8.13" height="4.07" fill="rgb(10, 10, 140)"/>
<rect x="101.39" y="355.70" width="8.13" height="4.07" fill="rgb(10, 10, 140)"/>
<rect x="109.52" y="355.70" width="8.13" height="4.07" fill="rgb(10, 10, 140)"/>
<rect x="117.65" y="355.70" width="8.13" height="4.07" fill="rgb(10, 10, 140)"/>
<rect x="125.78" y="355.70" width="8.13" height="4.07" fill="rgb(10, 10, 140)"/>
<rect x="77.00" y="359.77" width="8.13" height="4.07" fill="rgb(250, 75, 0)"/>
<rect x="85.13" y="359.77" width="8.13" height="4.07" fill="rgb(255, 135, 0)"/>
<rect x="93.26" y="359.77" width="8.13" height="4.07" fill="rgb(10, 10, 140)"/>
<rect x="101.39" y="359.77" width="8.13" height="4.07" fill="rgb(10, 10, 140)"/>
<rect x="109.52" y="359.77" width="8.13" height="4.07" fill="rgb(88, 88, 112)"/>
<rect x="117.65" y="359.77" width="8.13" height="4.07" fill="rgb(10, 10, 140)"/>
<rect x="125.78" y="359.77" width="8.13" height="4.07" fill="rgb(10, 10, 140)"/>
<rect x="77.00" y="363.84" width="8.13" height="4.07" fill="rgb(250, 75, 0)"/>
<rect x="85.13" y="363.84" width="8.13" height="4.07" fill="rgb(255, 135, 0)"/>
<rect x="93.26" y="363.84" width="8.13" height="4.07" fill="rgb(10, 10, 140)"/>
<rect x="101.39" y="363.84" width="8.13" height="4.07" fill="rgb(10, 10, 140)"/>
<rect x="109.52" y="363.84" width="8.13" height="4.07" fill="rgb(10, 10, 140)"/>
<rect x="117.65" y="363.84" width="8.13" height="4.07" fill="rgb(10, 10, 140)"/>
<rect x="125.78" y="363.84" width="8.13" height="4.07" fill="rgb(10, 10, 140)"/>
<rect x="77.00" y="367.91" width="8.13" height="4.07" fill="rgb(255, 135, 0)"/>
<rect x="85.13" y="367.91" width="8.13" height="4.07" fill="rgb(255, 190, 0)"/>
<rect x="93.26" y="367.91" width="8.13" height="4.07" fill="rgb(10, 10, 140)"/>
<rect x="101.39" y="367.91" width="8.13" height="4.07" fill="rgb(10, 10, 140)"/>
<rect x="109.52" y="367.91" width="8.13" height="4.07" fill="rgb(10, 10, 140)"/>
<rect x="117.65" y="367.91" width="8.13" height="4.07" fill="rgb(10, 10, 140)"/>
<rect x="125.78" y="367.91" width="8.13" height="4.07" fill="rgb(10, 10, 140)"/>
<rect x="77.00" y="371.98" width="8.13" height="4.07" fill="rgb(255, 135, 0)"/>
<rect x="85.13" y="371.98" width="8.13" height="4.07" fill="rgb(255, 190, 0)"/>
<rect x="93.26" y="371.98" width="8.13" height="4.07" fill="rgb(10, 10, 140)"/>
<rect x="101.39" y="371.98" width="8.13" height="4.07" fill="rgb(10, 10, 140)"/>
<rect x="109.52" y="371.98" width="8.13" height="4.07" fill="rgb(10, 10, 140)"/>
<rect x="117.65" y="371.98" width="8.13" height="4.07" fill="rgb(10, 10, 140)"/>
<rect x="125.78" y="371.98" width="8.13" height="4.07" fill="rgb(10, 10, 140)"/>
<rect x="77.00" y="376.05" width="8.13" height="4.07" fill="rgb(255, 135, 0)"/>
<rect x="85.13" y="376.05" width="8.13" height="4.07" fill="rgb(255, 190, 0)"/>
<rect x="93.26" y="376.05" width="8.13" height="4.07" fill="rgb(10, 10, 140)"/>
<rect x="101.39" y="376.05" width="8.13" height="4.07" fill="rgb(10, 10, 140)"/>
<rect x="109.52" y="376.05" width="8.13" height="4.07" fill="rgb(10, 10, 140)"/>
<rect x="117.65" y="376.05" width="8.13" height="4.07" fill="rgb(10, 10, 140)"/>
<rect x="125.78" y="376.05" width="8.13" height="4.07" fill="rgb(10, 10, 140)"/>
<rect x="77.00" y="380.12" width="8.13" height="4.07" fill="rgb(255, 135, 0)"/>
<rect x="85.13" y="380.12" width="8.13" height="4.07" fill="rgb(255, 190, 0)"/>
<rect x="93.26" y="380.12" width="8.13" height="4.07" fill="rgb(10, 10, 140)"/>
<rect x="101.39" y="380.12" width="8.13" height="4.07" fill="rgb(10, 10, 140)"/>
<rect x="109.52" y="380.12" width="8.13" height="4.07" fill="rgb(10, 10, 140)"/>
<rect x="117.65" y="380.12" width="8.13" height="4.07" fill="rgb(10, 10, 140)"/>
<rect x="125.78" y="380.12" width="8.13" height="4.07" fill="rgb(10, 10, 140)"/>
<rect x="77.00" y="384.19" width="8.13" height="4.07" fill="rgb(250, 240, 20)"/>
<rect x="85.13" y="384.19" width="8.13" height="4.07" fill="rgb(88, 88, 112)"/>
<rect x="93.26" y="384.19" width="8.13" height="4.07" fill="rgb(10, 10, 140)"/>
<rect x="101.39" y="384.19" width="8.13" height="4.07" fill="rgb(10, 10, 140)"/>
<rect x="109.52" y="384.19" width="8.13" height="4.07" fill="rgb(10, 10, 140)"/>
<rect x="117.65" y="384.19" width="8.13" height="4.07" fill="rgb(88, 88, 112)"/>
<rect x="125.78" y="384.19" width="8.13" height="4.07" fill="rgb(10, 10, 140)"/>
<rect x="77.00" y="388.26" width="8.13" height="4.07" fill="rgb(135, 128, 70)"/>
<rect x="85.13" y="388.26" width="8.13" height="4.07" fill="rgb(88, 88, 112)"/>
<rect x="93.26" y="388.26" width="8.13" height="4.07" fill="rgb(195, 185, 45)"/>
<rect x="101.39" y="388.26" width="8.13" height="4.07" fill="rgb(135, 128, 70)"/>
<rect x="109.52" y="388.26" width="8.13" height="4.07" fill="rgb(250, 240, 20)"/>
<rect x="117.65" y="388.26" width="8.13" height="4.07" fill="rgb(250, 240, 20)"/>
<rect x="125.78" y="388.26" width="8.13" height="4.07" fill="rgb(10, 10, 140)"/>
<rect x="77.00" y="392.33" width="8.13" height="4.07" fill="rgb(195, 185, 45)"/>
<rect x="85.13" y="392.33" width="8.13" height="4.07" fill="rgb(195, 185, 45)"/>
<rect x="93.26" y="392.33" width="8.13" height="4.07" fill="rgb(135, 128, 70)"/>
<rect x="101.39" y="392.33" width="8.13" height="4.07" fill="rgb(195, 185, 45)"/>
<rect x="109.52" y="392.33" width="8.13" height="4.07" fill="rgb(250, 240, 20)"/>
<rect x="117.65" y="392.33" width="8.13" height="4.07" fill="rgb(250, 240, 20)"/>
<rect x="125.78" y="392.33" width="8.13" height="4.07" fill="rgb(135, 128, 70)"/>
<rect x="77.00" y="396.40" width="8.13" height="4.07" fill="rgb(195, 185, 45)"/>
<rect x="85.13" y="396.40" width="8.13" height="4.07" fill="rgb(195, 185, 45)"/>
<rect x="93.26" y="396.40" width="8.13" height="4.07" fill="rgb(135, 128, 70)"/>
<rect x="101.39" y="396.40" width="8.13" height="4.07" fill="rgb(195, 185, 45)"/>
<rect x="109.52" y="396.40" width="8.13" height="4.07" fill="rgb(250, 240, 20)"/>
<rect x="117.65" y="396.40" width="8.13" height="4.07" fill="rgb(195, 185, 45)"/>
<rect x="125.78" y="396.40" width="8.13" height="4.07" fill="rgb(135, 128, 70)"/>
<rect x="77.00" y="400.47" width="8.13" height="4.07" fill="rgb(195, 185, 45)"/>
<rect x="85.13" y="400.47" width="8.13" height="4.07" fill="rgb(195, 185, 45)"/>
<rect x="93.26" y="400.47" width="8.13" height="4.07" fill="rgb(135, 128, 70)"/>
<rect x="101.39" y="400.47" width="8.13" height="4.07" fill="rgb(250, 240, 20)"/>
<rect x="109.52" y="400.47" width="8.13" height="4.07" fill="rgb(250, 240, 20)"/>
<rect x="117.65" y="400.47" width="8.13" height="4.07" fill="rgb(195, 185, 45)"/>
<rect x="125.78" y="400.47" width="8.13" height="4.07" fill="rgb(88, 88, 112)"/>
<rect x="77.00" y="404.54" width="8.13" height="4.07" fill="rgb(195, 185, 45)"/>
<rect x="85.13" y="404.54" width="8.13" height="4.07" fill="rgb(195, 185, 45)"/>
<rect x="93.26" y="404.54" width="8.13" height="4.07" fill="rgb(135, 128, 70)"/>
<rect x="101.39" y="404.54" width="8.13" height="4.07" fill="rgb(250, 240, 20)"/>
<rect x="109.52" y="404.54" width="8.13" height="4.07" fill="rgb(250, 240, 20)"/>
<rect x="117.65" y="404.54" width="8.13" height="4.07" fill="rgb(195, 185, 45)"/>
<rect x="125.78" y="404.54" width="8.13" height="4.07" fill="rgb(135, 128, 70)"/>
<rect x="77.00" y="408.61" width="8.13" height="4.07" fill="rgb(195, 185, 45)"/>
<rect x="85.13" y="408.61" width="8.13" height="4.07" fill="rgb(195, 185, 45)"/>
<rect x="93.26" y="408.61" width="8.13" height="4.07" fill="rgb(135, 128, 70)"/>
<rect x="101.39" y="408.61" width="8.13" height="4.07" fill="rgb(250, 240, 20)"/>
<rect x="109.52" y="408.61" width="8.13" height="4.07" fill="rgb(250, 240, 20)"/>
<rect x="117.65" y="408.61" width="8.13" height="4.07" fill="rgb(250, 240, 20)"/>
<rect x="125.78" y="408.61" width="8.13" height="4.07" fill="rgb(135, 128, 70)"/>
<rect x="77.00" y="412.68" width="8.13" height="4.07" fill="rgb(195, 185, 45)"/>
<rect x="85.13" y="412.68" width="8.13" height="4.07" fill="rgb(195, 185, 45)"/>
<rect x="93.26" y="412.68" width="8.13" height="4.07" fill="rgb(135, 128, 70)"/>
<rect x="101.39" y="412.68" width="8.13" height="4.07" fill="rgb(250, 240, 20)"/>
<rect x="109.52" y="412.68" width="8.13" height="4.07" fill="rgb(250, 240, 20)"/>
<rect x="117.65" y="412.68" width="8.13" height="4.07" fill="rgb(250, 240, 20)"/>
<rect x="125.78" y="412.68" width="8.13" height="4.07" fill="rgb(135, 128, 70)"/>
<rect x="77.00" y="416.75" width="8.13" height="4.07" fill="rgb(250, 240, 20)"/>
<rect x="85.13" y="416.75" width="8.13" height="4.07" fill="rgb(195, 185, 45)"/>
<rect x="93.26" y="416.75" width="8.13" height="4.07" fill="rgb(135, 128, 70)"/>
<rect x="101.39" y="416.75" width="8.13" height="4.07" fill="rgb(195, 185, 45)"/>
<rect x="109.52" y="416.75" width="8.13" height="4.07" fill="rgb(250, 240, 20)"/>
<rect x="117.65" y="416.75" width="8.13" height="4.07" fill="rgb(250, 240, 20)"/>
<rect x="125.78" y="416.75" width="8.13" height="4.07" fill="rgb(135, 128, 70)"/>
<rect x="77.00" y="420.82" width="8.13" height="4.07" fill="rgb(195, 185, 45)"/>
<rect x="85.13" y="420.82" width="8.13" height="4.07" fill="rgb(135, 128, 70)"/>
<rect x="93.26" y="420.82" width="8.13" height="4.07" fill="rgb(195, 185, 45)"/>
<rect x="101.39" y="420.82" width="8.13" height="4.07" fill="rgb(135, 128, 70)"/>
<rect x="109.52" y="420.82" width="8.13" height="4.07" fill="rgb(250, 240, 20)"/>
<rect x="117.65" y="420.82" width="8.13" height="4.07" fill="rgb(250, 240, 20)"/>
<rect x="125.78" y="420.82" width="8.13" height="4.07" fill="rgb(135, 128, 70)"/>
<rect x="77.00" y="424.89" width="8.13" height="4.07" fill="rgb(250, 240, 20)"/>
<rect x="85.13" y="424.89" width="8.13" height="4.07" fill="rgb(135, 128, 70)"/>
<rect x="93.26" y="424.89" width="8.13" height="4.07" fill="rgb(135, 128, 70)"/>
<rect x="101.39" y="424.89" width="8.13" height="4.07" fill="rgb(135, 128, 70)"/>
<rect x="109.52" y="424.89" width="8.13" height="4.07" fill="rgb(250, 240, 20)"/>
<rect x="117.65" y="424.89" width="8.13" height="4.07" fill="rgb(250, 240, 20)"/>
<rect x="125.78" y="424.89" width="8.13" height="4.07" fill="rgb(10, 10, 140)"/>
<rect x="77.00" y="428.96" width="8.13" height="4.07" fill="rgb(195, 185, 45)"/>
<rect x="85.13" y="428.96" width="8.13" height="4.07" fill="rgb(135, 128, 70)"/>
<rect x="93.26" y="428.96" width="8.13" height="4.07" fill="rgb(10, 10, 140)"/>
<rect x="101.39" y="428.96" width="8.13" height="4.07" fill="rgb(195, 185, 45)"/>
<rect x="109.52" y="428.96" width="8.13" height="4.07" fill="rgb(250, 240, 20)"/>
<rect x="117.65" y="428.96" width="8.13" height="4.07" fill="rgb(88, 88, 112)"/>
<rect x="125.78" y="428.96" width="8.13" height="4.07" fill="rgb(10, 10, 140)"/>
<rect x="77.00" y="433.03" width="8.13" height="4.07" fill="rgb(195, 185, 45)"/>
<rect x="85.13" y="433.03" width="8.13" height="4.07" fill="rgb(88, 88, 112)"/>
<rect x="93.26" y="433.03" width="8.13" height="4.07" fill="rgb(88, 88, 112)"/>
<rect x="101.39" y="433.03" width="8.13" height="4.07" fill="rgb(195, 185, 45)"/>
<rect x="109.52" y="433.03" width="8.13" height="4.07" fill="rgb(250, 240, 20)"/>
<rect x="117.65" y="433.03" width="8.13" height="4.07" fill="rgb(195, 185, 45)"/>
<rect x="125.78" y="433.03" width="8.13" height="4.07" fill="rgb(88, 88, 112)"/>
<rect x="77.00" y="437.10" width="8.13" height="4.07" fill="rgb(195, 185, 45)"/>
<rect x="85.13" y="437.10" width="8.13" height="4.07" fill="rgb(88, 88, 112)"/>
<rect x="93.26" y="437.10" width="8.13" height="4.07" fill="rgb(88, 88, 112)"/>
<rect x="101.39" y="437.10" width="8.13" height="4.07" fill="rgb(195, 185, 45)"/>
<rect x="109.52" y="437.10" width="8.13" height="4.07" fill="rgb(250, 240, 20)"/>
<rect x="117.65" y="437.10" width="8.13" height="4.07" fill="rgb(195, 185, 45)"/>
<rect x="125.78" y="437.10" width="8.13" height="4.07" fill="rgb(10, 10, 140)"/>
<rect x="77.00" y="441.17" width="8.13" height="4.07" fill="rgb(195, 185, 45)"/>
<rect x="85.13" y="441.17" width="8.13" height="4.07" fill="rgb(10, 10, 140)"/>
<rect x="93.26" y="441.17" width="8.13" height="4.07" fill="rgb(10, 10, 140)"/>
<rect x="101.39" y="441.17" width="8.13" height="4.07" fill="rgb(195, 185, 45)"/>
<rect x="109.52" y="441.17" width="8.13" height="4.07" fill="rgb(250, 240, 20)"/>
<rect x="117.65" y="441.17" width="8.13" height="4.07" fill="rgb(195, 185, 45)"/>
<rect x="125.78" y="441.17" width="8.13" height="4.07" fill="rgb(10, 10, 140)"/>
<rect x="77.00" y="445.24" width="8.13" height="4.07" fill="rgb(195, 185, 45)"/>
<rect x="85.13" y="445.24" width="8.13" height="4.07" fill="rgb(135, 128, 70)"/>
<rect x="93.26" y="445.24" width="8.13" height="4.07" fill="rgb(88, 88, 112)"/>
<rect x="101.39" y="445.24" width="8.13" height="4.07" fill="rgb(195, 185, 45)"/>
<rect x="109.52" y="445.24" width="8.13" height="4.07" fill="rgb(250, 240, 20)"/>
<rect x="117.65" y="445.24" width="8.13" height="4.07" fill="rgb(195, 185, 45)"/>
<rect x="125.78" y="445.24" width="8.13" height="4.07" fill="rgb(88, 88, 112)"/>
<rect x="77.00" y="449.31" width="8.13" height="4.07" fill="rgb(195, 185, 45)"/>
<rect x="85.13" y="449.31" width="8.13" height="4.07" fill="rgb(135, 128, 70)"/>
<rect x="93.26" y="449.31" width="8.13" height="4.07" fill="rgb(88, 88, 112)"/>
<rect x="101.39" y="449.31" width="8.13" height="4.07" fill="rgb(195, 185, 45)"/>
<rect x="109.52" y="449.31" width="8.13" height="4.07" fill="rgb(250, 240, 20)"/>
<rect x="117.65" y="449.31" width="8.13" height="4.07" fill="rgb(195, 185, 45)"/>
<rect x="125.78" y="449.31" width="8.13" height="4.07" fill="rgb(10, 10, 140)"/>
<rect x="77.00" y="453.38" width="8.13" height="4.07" fill="rgb(195, 185, 45)"/>
<rect x="85.13" y="453.38" width="8.13" height="4.07" fill="rgb(135, 128, 70)"/>
<rect x="93.26" y="453.38" width="8.13" height="4.07" fill="rgb(88, 88, 112)"/>
<rect x="101.39" y="453.38" width="8.13" height="4.07" fill="rgb(195, 185, 45)"/>
<rect x="109.52" y="453.38" width="8.13" height="4.07" fill="rgb(250, 240, 20)"/>
<rect x="117.65" y="453.38" width="8.13" height="4.07" fill="rgb(135, 128, 70)"/>
<rect x="125.78" y="453.38" width="8.13" height="4.07" fill="rgb(10, 10, 140)"/>
<rect x="77.00" y="457.45" width="8.13" height="4.07" fill="rgb(195, 185, 45)"/>
<rect x="85.13" y="457.45" width="8.13" height="4.07" fill="rgb(135, 128, 70)"/>
<rect x="93.26" y="457.45" width="8.13" height="4.07" fill="rgb(88, 88, 112)"/>
<rect x="101.39" y="457.45" width="8.13" height="4.07" fill="rgb(195, 185, 45)"/>
<rect x="109.52" y="457.45" width="8.13" height="4.07" fill="rgb(250, 240, 20)"/>
<rect x="117.65" y="457.45" width="8.13" height="4.07" fill="rgb(135, 128, 70)"/>
<rect x="125.78" y="457.45" width="8.13" height="4.07" fill="rgb(10, 10, 140)"/>
<rect x="77.00" y="461.52" width="8.13" height="4.07" fill="rgb(195, 185, 45)"/>
<rect x="85.13" y="461.52" width="8.13" height="4.07" fill="rgb(135, 128, 70)"/>
<rect x="93.26" y="461.52" width="8.13" height="4.07" fill="rgb(88, 88, 112)"/>
<rect x="101.39" y="461.52" width="8.13" height="4.07" fill="rgb(195, 185, 45)"/>
<rect x="109.52" y="461.52" width="8.13" height="4.07" fill="rgb(250, 240, 20)"/>
<rect x="117.65" y="461.52" width="8.13" height="4.07" fill="rgb(135, 128, 70)"/>
<rect x="125.78" y="461.52" width="8.13" height="4.07" fill="rgb(88, 88, 112)"/>
<rect x="77.00" y="465.59" width="8.13" height="4.07" fill="rgb(10, 10, 140)"/>
<rect x="85.13" y="465.59" width="8.13" height="4.07" fill="rgb(10, 10, 140)"/>
<rect x="93.26" y="465.59" width="8.13" height="4.07" fill="rgb(10, 10, 140)"/>
<rect x="101.39" y="465.59" width="8.13" height="4.07" fill="rgb(88, 88, 112)"/>
<rect x="109.52" y="465.59" width="8.13" height="4.07" fill="rgb(88, 88, 112)"/>
<rect x="117.65" y="465.59" width="8.13" height="4.07" fill="rgb(195, 185, 45)"/>
<rect x="125.78" y="465.59" width="8.13" height="4.07" fill="rgb(135, 128, 70)"/>
<rect x="77.00" y="469.66" width="8.13" height="4.07" fill="rgb(10, 10, 140)"/>
<rect x="85.13" y="469.66" width="8.13" height="4.07" fill="rgb(135, 128, 70)"/>
<rect x="93.26" y="469.66" width="8.13" height="4.07" fill="rgb(10, 10, 140)"/>
<rect x="101.39" y="469.66" width="8.13" height="4.07" fill="rgb(88, 88, 112)"/>
<rect x="109.52" y="469.66" width="8.13" height="4.07" fill="rgb(250, 240, 20)"/>
<rect x="117.65" y="469.66" width="8.13" height="4.07" fill="rgb(250, 240, 20)"/>
<rect x="125.78" y="469.66" width="8.13" height="4.07" fill="rgb(135, 128, 70)"/>
<rect x="77.00" y="473.73" width="8.13" height="4.07" fill="rgb(195, 185, 45)"/>
<rect x="85.13" y="473.73" width="8.13" height="4.07" fill="rgb(195, 185, 45)"/>
<rect x="93.26" y="473.73" width="8.13" height="4.07" fill="rgb(135, 128, 70)"/>
<rect x="101.39" y="473.73" width="8.13" height="4.07" fill="rgb(10, 10, 140)"/>
<rect x="109.52" y="473.73" width="8.13" height="4.07" fill="rgb(250, 240, 20)"/>
<rect x="117.65" y="473.73" width="8.13" height="4.07" fill="rgb(250, 240, 20)"/>
<rect x="125.78" y="473.73" width="8.13" height="4.07" fill="rgb(195, 185, 45)"/>
<rect x="77.00" y="477.80" width="8.13" height="4.07" fill="rgb(195, 185, 45)"/>
<rect x="85.13" y="477.80" width="8.13" height="4.07" fill="rgb(135, 128, 70)"/>
<rect x="93.26" y="477.80" width="8.13" height="4.07" fill="rgb(135, 128, 70)"/>
<rect x="101.39" y="477.80" width="8.13" height="4.07" fill="rgb(88, 88, 112)"/>
<rect x="109.52" y="477.80" width="8.13" height="4.07" fill="rgb(250, 240, 20)"/>
<rect x="117.65" y="477.80" width="8.13" height="4.07" fill="rgb(250, 240, 20)"/>
<rect x="125.78" y="477.80" width="8.13" height="4.07" fill="rgb(135, 128, 70)"/>
<rect x="77.00" y="481.87" width="8.13" height="4.07" fill="rgb(10, 10, 140)"/>
<rect x="85.13" y="481.87" width="8.13" height="4.07" fill="rgb(135, 128, 70)"/>
<rect x="93.26" y="481.87" width="8.13" height="4.07" fill="rgb(250, 240, 20)"/>
<rect x="101.39" y="481.87" width="8.13" height="4.07" fill="rgb(135, 128, 70)"/>
<rect x="109.52" y="481.87" width="8.13" height="4.07" fill="rgb(88, 88, 112)"/>
<rect x="117.65" y="481.87" width="8.13" height="4.07" fill="rgb(88, 88, 112)"/>
<rect x="125.78" y="481.87" width="8.13" height="4.07" fill="rgb(135, 128, 70)"/>
<rect x="77.00" y="485.94" width="8.13" height="4.07" fill="rgb(10, 10, 140)"/>
<rect x="85.13" y="485.94" width="8.13" height="4.07" fill="rgb(10, 10, 140)"/>
<rect x="93.26" y="485.94" width="8.13" height="4.07" fill="rgb(250, 240, 20)"/>
<rect x="101.39" y="485.94" width="8.13" height="4.07" fill="rgb(10, 10, 140)"/>
<rect x="109.52" y="485.94" width="8.13" height="4.07" fill="rgb(88, 88, 112)"/>
<rect x="117.65" y="485.94" width="8.13" height="4.07" fill="rgb(88, 88, 112)"/>
<rect x="125.78" y="485.94" width="8.13" height="4.07" fill="rgb(195, 185, 45)"/>
<rect x="77.00" y="490.01" width="8.13" height="4.07" fill="rgb(10, 10, 140)"/>
<rect x="85.13" y="490.01" width="8.13" height="4.07" fill="rgb(135, 128, 70)"/>
<rect x="93.26" y="490.01" width="8.13" height="4.07" fill="rgb(250, 240, 20)"/>
<rect x="101.39" y="490.01" width="8.13" height="4.07" fill="rgb(10, 10, 140)"/>
<rect x="109.52" y="490.01" width="8.13" height="4.07" fill="rgb(88, 88, 112)"/>
<rect x="117.65" y="490.01" width="8.13" height="4.07" fill="rgb(88, 88, 112)"/>
<rect x="125.78" y="490.01" width="8.13" height="4.07" fill="rgb(250, 240, 20)"/>
<rect x="77.00" y="494.08" width="8.13" height="4.07" fill="rgb(10, 10, 140)"/>
<rect x="85.13" y="494.08" width="8.13" height="4.07" fill="rgb(135, 128, 70)"/>
<rect x="93.26" y="494.08" width="8.13" height="4.07" fill="rgb(135, 128, 70)"/>
<rect x="101.39" y="494.08" width="8.13" height="4.07" fill="rgb(10, 10, 140)"/>
<rect x="109.52" y="494.08" width="8.13" height="4.07" fill="rgb(195, 185, 45)"/>
<rect x="117.65" y="494.08" width="8.13" height="4.07" fill="rgb(88, 88, 112)"/>
<rect x="125.78" y="494.08" width="8.13" height="4.07" fill="rgb(250, 240, 20)"/>
<rect x="77.00" y="498.15" width="8.13" height="4.07" fill="rgb(10, 10, 140)"/>
<rect x="85.13" y="498.15" width="8.13" height="4.07" fill="rgb(10, 10, 140)"/>
<rect x="93.26" y="498.15" width="8.13" height="4.07" fill="rgb(10, 10, 140)"/>
<rect x="101.39" y="498.15" width="8.13" height="4.07" fill="rgb(10, 10, 140)"/>
<rect x="109.52" y="498.15" width="8.13" height="4.07" fill="rgb(250, 240, 20)"/>
<rect x="117.65" y="498.15" width="8.13" height="4.07" fill="rgb(88, 88, 112)"/>
<rect x="125.78" y="498.15" width="8.13" height="4.07" fill="rgb(10, 10, 140)"/>
<rect x="77.00" y="502.22" width="8.13" height="4.07" fill="rgb(135, 128, 70)"/>
<rect x="85.13" y="502.22" width="8.13" height="4.07" fill="rgb(195, 185, 45)"/>
<rect x="93.26" y="502.22" width="8.13" height="4.07" fill="rgb(10, 10, 140)"/>
<rect x="101.39" y="502.22" width="8.13" height="4.07" fill="rgb(135, 128, 70)"/>
<rect x="109.52" y="502.22" width="8.13" height="4.07" fill="rgb(135, 128, 70)"/>
<rect x="117.65" y="502.22" width="8.13" height="4.07" fill="rgb(88, 88, 112)"/>
<rect x="125.78" y="502.22" width="8.13" height="4.07" fill="rgb(10, 10, 140)"/>
<rect x="77.00" y="506.29" width="8.13" height="4.07" fill="rgb(88, 88, 112)"/>
<rect x="85.13" y="506.29" width="8.13" height="4.07" fill="rgb(195, 185, 45)"/>
<rect x="93.26" y="506.29" width="8.13" height="4.07" fill="rgb(10, 10, 140)"/>
<rect x="101.39" y="506.29" width="8.13" height="4.07" fill="rgb(88, 88, 112)"/>
<rect x="109.52" y="506.29" width="8.13" height="4.07" fill="rgb(88, 88, 112)"/>
<rect x="117.65" y="506.29" width="8.13" height="4.07" fill="rgb(135, 128, 70)"/>
<rect x="125.78" y="506.29" width="8.13" height="4.07" fill="rgb(10, 10, 140)"/>
<rect x="77.00" y="510.36" width="8.13" height="4.07" fill="rgb(88, 88, 112)"/>
<rect x="85.13" y="510.36" width="8.13" height="4.07" fill="rgb(250, 240, 20)"/>
<rect x="93.26" y="510.36" width="8.13" height="4.07" fill="rgb(10, 10, 140)"/>
<rect x="101.39" y="510.36" width="8.13" height="4.07" fill="rgb(88, 88, 112)"/>
<rect x="109.52" y="510.36" width="8.13" height="4.07" fill="rgb(195, 185, 45)"/>
<rect x="117.65" y="510.36" width="8.13" height="4.07" fill="rgb(10, 10, 140)"/>
<rect x="125.78" y="510.36" width="8.13" height="4.07" fill="rgb(10, 10, 140)"/>
<rect x="77.00" y="514.43" width="8.13" height="4.07" fill="rgb(10, 10, 140)"/>
<rect x="85.13" y="514.43" width="8.13" height="4.07" fill="rgb(250, 240, 20)"/>
<rect x="93.26" y="514.43" width="8.13" height="4.07" fill="rgb(10, 10, 140)"/>
<rect x="101.39" y="514.43" width="8.13" height="4.07" fill="rgb(88, 88, 112)"/>
<rect x="109.52" y="514.43" width="8.13" height="4.07" fill="rgb(135, 128, 70)"/>
<rect x="117.65" y="514.43" width="8.13" height="4.07" fill="rgb(10, 10, 140)"/>
<rect x="125.78" y="514.43" width="8.13" height="4.07" fill="rgb(10, 10, 140)"/>
<rect x="77.00" y="518.50" width="8.13" height="4.07" fill="rgb(10, 10, 140)"/>
<rect x="85.13" y="518.50" width="8.13" height="4.07" fill="rgb(195, 185, 45)"/>
<rect x="93.26" y="518.50" width="8.13" height="4.07" fill="rgb(10, 10, 140)"/>
<rect x="101.39" y="518.50" width="8.13" height="4.07" fill="rgb(88, 88, 112)"/>
<rect x="109.52" y="518.50" width="8.13" height="4.07" fill="rgb(88, 88, 112)"/>
<rect x="117.65" y="518.50" width="8.13" height="4.07" fill="rgb(10, 10, 140)"/>
<rect x="125.78" y="518.50" width="8.13" height="4.07" fill="rgb(10, 10, 140)"/>
<rect x="77.00" y="522.57" width="8.13" height="4.07" fill="rgb(88, 88, 112)"/>
<rect x="85.13" y="522.57" width="8.13" height="4.07" fill="rgb(10, 10, 140)"/>
<rect x="93.26" y="522.57" width="8.13" height="4.07" fill="rgb(195, 185, 45)"/>
<rect x="101.39" y="522.57" width="8.13" height="4.07" fill="rgb(10, 10, 140)"/>
<rect x="109.52" y="522.57" width="8.13" height="4.07" fill="rgb(10, 10, 140)"/>
<rect x="117.65" y="522.57" width="8.13" height="4.07" fill="rgb(10, 10, 140)"/>
<rect x="125.78" y="522.57" width="8.13" height="4.07" fill="rgb(10, 10, 140)"/>
<rect x="77.00" y="526.64" width="8.13" height="4.07" fill="rgb(10, 10, 140)"/>
<rect x="85.13" y="526.64" width="8.13" height="4.07" fill="rgb(10, 10, 140)"/>
<rect x="93.26" y="526.64" width="8.13" height="4.07" fill="rgb(195, 185, 45)"/>
<rect x="101.39" y="526.64" width="8.13" height="4.07" fill="rgb(10, 10, 140)"/>
<rect x="109.52" y="526.64" width="8.13" height="4.07" fill="rgb(88, 88, 112)"/>
<rect x="117.65" y="526.64" width="8.13" height="4.07" fill="rgb(88, 88, 112)"/>
<rect x="125.78" y="526.64" width="8.13" height="4.07" fill="rgb(135, 128, 70)"/>
<rect x="77.00" y="530.71" width="8.13" height="4.07" fill="rgb(10, 10, 140)"/>
<rect x="85.13" y="530.71" width="8.13" height="4.07" fill="rgb(88, 88, 112)"/>
<rect x="93.26" y="530.71" width="8.13" height="4.07" fill="rgb(195, 185, 45)"/>
<rect x="101.39" y="530.71" width="8.13" height="4.07" fill="rgb(10, 10, 140)"/>
<rect x="109.52" y="530.71" width="8.13" height="4.07" fill="rgb(88, 88, 112)"/>
<rect x="117.65" y="530.71" width="8.13" height="4.07" fill="rgb(88, 88, 112)"/>
<rect x="125.78" y="530.71" width="8.13" height="4.07" fill="rgb(135, 128, 70)"/>
<rect x="77.00" y="534.78" width="8.13" height="4.07" fill="rgb(10, 10, 140)"/>
<rect x="85.13" y="534.78" width="8.13" height="4.07" fill="rgb(88, 88, 112)"/>
<rect x="93.26" y="534.78" width="8.13" height="4.07" fill="rgb(195, 185, 45)"/>
<rect x="101.39" y="534.78" width="8.13" height="4.07" fill="rgb(88, 88, 112)"/>
<rect x="109.52" y="534.78" width="8.13" height="4.07" fill="rgb(10, 10, 140)"/>
<rect x="117.65" y="534.78" width="8.13" height="4.07" fill="rgb(88, 88, 112)"/>
<rect x="125.78" y="534.78" width="8.13" height="4.07" fill="rgb(88, 88, 112)"/>
<rect x="77.00" y="538.85" width="8.13" height="4.07" fill="rgb(10, 10, 140)"/>
<rect x="85.13" y="538.85" width="8.13" height="4.07" fill="rgb(10, 10, 140)"/>
<rect x="93.26" y="538.85" width="8.13" height="4.07" fill="rgb(195, 185, 45)"/>
<rect x="101.39" y="538.85" width="8.13" height="4.07" fill="rgb(88, 88, 112)"/>
<rect x="109.52" y="538.85" width="8.13" height="4.07" fill="rgb(10, 10, 140)"/>
<rect x="117.65" y="538.85" width="8.13" height="4.07" fill="rgb(10, 10, 140)"/>
<rect x="125.78" y="538.85" width="8.13" height="4.07" fill="rgb(88, 88, 112)"/>
<rect x="77.00" y="542.92" width="8.13" height="4.07" fill="rgb(10, 10, 140)"/>
<rect x="85.13" y="542.92" width="8.13" height="4.07" fill="rgb(88, 88, 112)"/>
<rect x="93.26" y="542.92" width="8.13" height="4.07" fill="rgb(195, 185, 45)"/>
<rect x="101.39" y="542.92" width="8.13" height="4.07" fill="rgb(10, 10, 140)"/>
<rect x="109.52" y="542.92" width="8.13" height="4.07" fill="rgb(10, 10, 140)"/>
<rect x="117.65" y="542.92" width="8.13" height="4.07" fill="rgb(10, 10, 140)"/>
<rect x="125.78" y="542.92" width="8.13" height="4.07" fill="rgb(88, 88, 112)"/>
<rect x="77.00" y="546.99" width="8.13" height="4.07" fill="rgb(10, 10, 140)"/>
<rect x="85.13" y="546.99" width="8.13" height="4.07" fill="rgb(10, 10, 140)"/>
<rect x="93.26" y="546.99" width="8.13" height="4.07" fill="rgb(250, 240, 20)"/>
<rect x="101.39" y="546.99" width="8.13" height="4.07" fill="rgb(88, 88, 112)"/>
<rect x="109.52" y="546.99" width="8.13" height="4.07" fill="rgb(88, 88, 112)"/>
<rect x="117.65" y="546.99" width="8.13" height="4.07" fill="rgb(10, 10, 140)"/>
<rect x="125.78" y="546.99" width="8.13" height="4.07" fill="rgb(10, 10, 140)"/>
<rect x="77.00" y="551.06" width="8.13" height="4.07" fill="rgb(10, 10, 140)"/>
<rect x="85.13" y="551.06" width="8.13" height="4.07" fill="rgb(10, 10, 140)"/>
<rect x="93.26" y="551.06" width="8.13" height="4.07" fill="rgb(88, 88, 112)"/>
<rect x="101.39" y="551.06" width="8.13" height="4.07" fill="rgb(10, 10, 140)"/>
<rect x="109.52" y="551.06" width="8.13" height="4.07" fill="rgb(10, 10, 140)"/>
<rect x="117.65" y="551.06" width="8.13" height="4.07" fill="rgb(10, 10, 140)"/>
<rect x="125.78" y="551.06" width="8.13" height="4.07" fill="rgb(255, 190, 0)"/>
<rect x="77.00" y="555.13" width="8.13" height="4.07" fill="rgb(10, 10, 140)"/>
<rect x="85.13" y="555.13" width="8.13" height="4.07" fill="rgb(10, 10, 140)"/>
<rect x="93.26" y="555.13" width="8.13" height="4.07" fill="rgb(10, 10, 140)"/>
<rect x="101.39" y="555.13" width="8.13" height="4.07" fill="rgb(10, 10, 140)"/>
<rect x="109.52" y="555.13" width="8.13" height="4.07" fill="rgb(10, 10, 140)"/>
<rect x="117.65" y="555.13" width="8.13" height="4.07" fill="rgb(10, 10, 140)"/>
<rect x="125.78" y="555.13" width="8.13" height="4.07" fill="rgb(195, 185, 45)"/>
<rect x="77.00" y="559.20" width="8.13" height="4.07" fill="rgb(10, 10, 140)"/>
<rect x="85.13" y="559.20" width="8.13" height="4.07" fill="rgb(88, 88, 112)"/>
<rect x="93.26" y="559.20" width="8.13" height="4.07" fill="rgb(10, 10, 140)"/>
<rect x="101.39" y="559.20" width="8.13" height="4.07" fill="rgb(88, 88, 112)"/>
<rect x="109.52" y="559.20" width="8.13" height="4.07" fill="rgb(88, 88, 112)"/>
<rect x="117.65" y="559.20" width="8.13" height="4.07" fill="rgb(10, 10, 140)"/>
<rect x="125.78" y="559.20" width="8.13" height="4.07" fill="rgb(195, 185, 45)"/>
<rect x="77.00" y="563.27" width="8.13" height="4.07" fill="rgb(88, 88, 112)"/>
<rect x="85.13" y="563.27" width="8.13" height="4.07" fill="rgb(135, 128, 70)"/>
<rect x="93.26" y="563.27" width="8.13" height="4.07" fill="rgb(10, 10, 140)"/>
<rect x="101.39" y="563.27" width="8.13" height="4.07" fill="rgb(10, 10, 140)"/>
<rect x="109.52" y="563.27" width="8.13" height="4.07" fill="rgb(10, 10, 140)"/>
<rect x="117.65" y="563.27" width="8.13" height="4.07" fill="rgb(250, 240, 20)"/>
<rect x="125.78" y="563.27" width="8.13" height="4.07" fill="rgb(88, 88, 112)"/>
<rect x="77.00" y="567.34" width="8.13" height="4.07" fill="rgb(10, 10, 140)"/>
<rect x="85.13" y="567.34" width="8.13" height="4.07" fill="rgb(195, 185, 45)"/>
<rect x="93.26" y="567.34" width="8.13" height="4.07" fill="rgb(255, 190, 0)"/>
<rect x="101.39" y="567.34" width="8.13" height="4.07" fill="rgb(250, 240, 20)"/>
<rect x="109.52" y="567.34" width="8.13" height="4.07" fill="rgb(10, 10, 140)"/>
<rect x="117.65" y="567.34" width="8.13" height="4.07" fill="rgb(10, 10, 140)"/>
<rect x="125.78" y="567.34" width="8.13" height="4.07" fill="rgb(88, 88, 112)"/>
<path d="M77.00 315.0V571.41M85.13 315.0V571.41M93.26 315.0V571.41M101.39 315.0V571.41M109.52 315.0V571.41M117.65 315.0V571.41M125.78 315.0V571.41M133.91 315.0V571.41M77.0 315.00H133.91M77.0 319.07H133.91M77.0 323.14H133.91M77.0 327.21H133.91M77.0 331.28H133.91M77.0 335.35H133.91M77.0 339.42H133.91M77.0 343.49H133.91M77.0 347.56H133.91M77.0 351.63H133.91M77.0 355.70H133.91M77.0 359.77H133.91M77.0 363.84H133.91M77.0 367.91H133.91M77.0 371.98H133.91M77.0 376.05H133.91M77.0 380.12H133.91M77.0 384.19H133.91M77.0 388.26H133.91M77.0 392.33H133.91M77.0 396.40H133.91M77.0 400.47H133.91M77.0 404.54H133.91M77.0 408.61H133.91M77.0 412.68H133.91M77.0 416.75H133.91M77.0 420.82H133.91M77.0 424.89H133.91M77.0 428.96H133.91M77.0 433.03H133.91M77.0 437.10H133.91M77.0 441.17H133.91M77.0 445.24H133.91M77.0 449.31H133.91M77.0 453.38H133.91M77.0 457.45H133.91M77.0 461.52H133.91M77.0 465.59H133.91M77.0 469.66H133.91M77.0 473.73H133.91M77.0 477.80H133.91M77.0 481.87H133.91M77.0 485.94H133.91M77.0 490.01H133.91M77.0 494.08H133.91M77.0 498.15H133.91M77.0 502.22H133.91M77.0 506.29H133.91M77.0 510.36H133.91M77.0 514.43H133.91M77.0 518.50H133.91M77.0 522.57H133.91M77.0 526.64H133.91M77.0 530.71H133.91M77.0 534.78H133.91M77.0 538.85H133.91M77.0 542.92H133.91M77.0 546.99H133.91M77.0 551.06H133.91M77.0 555.13H133.91M77.0 559.20H133.91M77.0 563.27H133.91M77.0 567.34H133.91M77.0 571.41H133.91" stroke="#303030" stroke-width="0.45" opacity="0.7"/>
</g>
<defs><linearGradient id="cbar" x1="0" x2="1" y1="0" y2="0">
<stop offset="0" stop-color="#10108a"/><stop offset="0.12" stop-color="#1a1a80"/><stop offset="0.3" stop-color="#7a7a40"/>
<stop offset="0.5" stop-color="#f5e80a"/><stop offset="0.7" stop-color="#ff9a00"/><stop offset="0.95" stop-color="#e81a10"/><stop offset="1" stop-color="#e01010"/></linearGradient></defs>
<rect x="76" y="274" width="57.5" height="8.8" fill="url(#cbar)"/>
<text x="78.00" y="280.50" font-size="4" fill="#fff" text-anchor="start" >&lt; 0</text>
<text x="129.00" y="280.50" font-size="4" fill="#222" text-anchor="start" >5</text>
<text x="76.00" y="271.20" font-size="3.0" fill="#666" text-anchor="start" textLength="56.00" lengthAdjust="spacingAndGlyphs" >log2 (Ratio H/L (forward) * L/H (reverse))</text>
<text transform="translate(82.66,303.8) rotate(-90)" font-size="5.4" fill="#231f20" stroke="#231f20" stroke-width="0.12" textLength="16.84" lengthAdjust="spacingAndGlyphs">THOC6</text>
<text transform="translate(90.79,303.8) rotate(-90)" font-size="5.4" fill="#231f20" stroke="#231f20" stroke-width="0.12" textLength="16.84" lengthAdjust="spacingAndGlyphs">THOC3</text>
<text transform="translate(98.92,303.8) rotate(-90)" font-size="5.4" fill="#231f20" stroke="#231f20" stroke-width="0.12" textLength="16.84" lengthAdjust="spacingAndGlyphs">THOC5</text>
<text transform="translate(107.05,303.8) rotate(-90)" font-size="5.4" fill="#231f20" stroke="#231f20" stroke-width="0.12" textLength="16.84" lengthAdjust="spacingAndGlyphs">THOC2</text>
<text transform="translate(115.19,303.8) rotate(-90)" font-size="5.4" fill="#231f20" stroke="#231f20" stroke-width="0.12" textLength="16.84" lengthAdjust="spacingAndGlyphs">THOC1</text>
<text transform="translate(123.31,303.8) rotate(-90)" font-size="5.4" fill="#231f20" stroke="#231f20" stroke-width="0.12" textLength="16.84" lengthAdjust="spacingAndGlyphs">THOC7</text>
<text transform="translate(131.44,303.8) rotate(-90)" font-size="5.4" fill="#231f20" stroke="#231f20" stroke-width="0.12">Aly</text>
<path d="M105.45 315.00V313.00H113.59V315.00M109.52 313.00V311.80H121.72V315.00M97.33 315.00V310.60H115.62V311.80M106.47 310.60V309.60H129.84V315.00M81.06 315.00V313.60H89.19V315.00M85.13 313.60V307.50H118.16V309.60" stroke="#5a5aa8" stroke-width="0.7" fill="none"/>
<rect x="138" y="315.3" width="4.2" height="24" fill="#1a1a8c"/>
<rect x="138" y="339.3" width="4.2" height="11.6" fill="#2aa6aa"/>
<rect x="138" y="352.8" width="4.2" height="30.5" fill="#a01414"/>
<rect x="138" y="388.6" width="4.2" height="39.6" fill="#1a6e24"/>
<text x="168.70" y="330.40" font-size="7.4" fill="#2a2a8a" text-anchor="start" stroke="#2a2a8a" stroke-width="0.25" textLength="31.20" lengthAdjust="spacingAndGlyphs" >TREX core</text>
<text x="168.70" y="347.60" font-size="7.4" fill="#3aaab2" text-anchor="start" stroke="#3aaab2" stroke-width="0.25" textLength="45.60" lengthAdjust="spacingAndGlyphs" >TREX adaptors</text>
<text x="168.70" y="369.60" font-size="7.4" fill="#a42424" text-anchor="start" stroke="#a42424" stroke-width="0.25" textLength="33.10" lengthAdjust="spacingAndGlyphs" >T-complex</text>
<text x="168.70" y="409.40" font-size="7.4" fill="#3a8a3a" text-anchor="start" stroke="#3a8a3a" stroke-width="0.25" textLength="78.60" lengthAdjust="spacingAndGlyphs" >TREX associated proteins</text>
<text x="145.80" y="318.54" font-size="4.3" fill="#111" text-anchor="start" stroke="#111" stroke-width="0.08" >THOC3</text>
<text x="145.80" y="322.61" font-size="4.3" fill="#111" text-anchor="start" stroke="#111" stroke-width="0.08" >THOC1</text>
<text x="145.80" y="326.68" font-size="4.3" fill="#111" text-anchor="start" stroke="#111" stroke-width="0.08" >THOC2</text>
<text x="145.80" y="330.75" font-size="4.3" fill="#111" text-anchor="start" stroke="#111" stroke-width="0.08" >THOC7</text>
<text x="145.80" y="334.81" font-size="4.3" fill="#111" text-anchor="start" stroke="#111" stroke-width="0.08" >THOC5</text>
<text x="145.80" y="338.88" font-size="4.3" fill="#111" text-anchor="start" stroke="#111" stroke-width="0.08" >THOC6</text>
<text x="145.80" y="342.95" font-size="4.3" fill="#111" text-anchor="start" stroke="#111" stroke-width="0.08" >BAT1</text>
<text x="145.80" y="347.02" font-size="4.3" fill="#111" text-anchor="start" stroke="#111" stroke-width="0.08" >ARS2</text>
<text x="145.80" y="351.10" font-size="4.3" fill="#111" text-anchor="start" stroke="#111" stroke-width="0.08" >POLDIP3</text>
<text x="145.80" y="355.17" font-size="4.3" fill="#111" text-anchor="start" stroke="#111" stroke-width="0.08" >CCT5</text>
<text x="145.80" y="359.24" font-size="4.3" fill="#111" text-anchor="start" stroke="#111" stroke-width="0.08" >CCT1</text>
<text x="145.80" y="363.31" font-size="4.3" fill="#111" text-anchor="start" stroke="#111" stroke-width="0.08" >CCT6A</text>
<text x="145.80" y="367.38" font-size="4.3" fill="#111" text-anchor="start" stroke="#111" stroke-width="0.08" >CCT3</text>
<text x="145.80" y="371.44" font-size="4.3" fill="#111" text-anchor="start" stroke="#111" stroke-width="0.08" >CCT2</text>
<text x="145.80" y="375.51" font-size="4.3" fill="#111" text-anchor="start" stroke="#111" stroke-width="0.08" >CCT8</text>
<text x="145.80" y="379.59" font-size="4.3" fill="#111" text-anchor="start" stroke="#111" stroke-width="0.08" >CCT7</text>
<text x="145.80" y="383.65" font-size="4.3" fill="#111" text-anchor="start" stroke="#111" stroke-width="0.08" >CCT4</text>
<text x="145.80" y="387.73" font-size="4.3" fill="#111" text-anchor="start" stroke="#111" stroke-width="0.08" >HSPD1</text>
<text x="145.80" y="391.80" font-size="4.3" fill="#111" text-anchor="start" stroke="#111" stroke-width="0.08" >ZC3H11A</text>
<text x="145.80" y="395.87" font-size="4.3" fill="#111" text-anchor="start" stroke="#111" stroke-width="0.08" >SFRS9</text>
<text x="145.80" y="399.94" font-size="4.3" fill="#111" text-anchor="start" stroke="#111" stroke-width="0.08" >SFRS6</text>
<text x="145.80" y="404.00" font-size="4.3" fill="#111" text-anchor="start" stroke="#111" stroke-width="0.08" >EIF4A3</text>
<text x="145.80" y="408.07" font-size="4.3" fill="#111" text-anchor="start" stroke="#111" stroke-width="0.08" >RBM8A</text>
<text x="145.80" y="412.14" font-size="4.3" fill="#111" text-anchor="start" stroke="#111" stroke-width="0.08" >MAGOHB</text>
<text x="145.80" y="416.22" font-size="4.3" fill="#111" text-anchor="start" stroke="#111" stroke-width="0.08" >ERH</text>
<text x="145.80" y="420.29" font-size="4.3" fill="#111" text-anchor="start" stroke="#111" stroke-width="0.08" >BCLAF1</text>
<text x="145.80" y="424.36" font-size="4.3" fill="#111" text-anchor="start" stroke="#111" stroke-width="0.08" >THRAP3</text>
<text x="145.80" y="428.43" font-size="4.3" fill="#111" text-anchor="start" stroke="#111" stroke-width="0.08" >ZC3H14</text>
<text x="145.80" y="432.50" font-size="4.3" fill="#111" text-anchor="start" stroke="#111" stroke-width="0.08" >SFRS2B</text>
<text x="145.80" y="436.56" font-size="4.3" fill="#111" text-anchor="start" stroke="#111" stroke-width="0.08" >FYTTD1</text>
<text x="145.80" y="440.63" font-size="4.3" fill="#111" text-anchor="start" stroke="#111" stroke-width="0.08" >FUSIP1</text>
<text x="145.80" y="444.71" font-size="4.3" fill="#111" text-anchor="start" stroke="#111" stroke-width="0.08" >C1orf77</text>
<text x="145.80" y="448.77" font-size="4.3" fill="#111" text-anchor="start" stroke="#111" stroke-width="0.08" >SFRS1</text>
<text x="145.80" y="452.85" font-size="4.3" fill="#111" text-anchor="start" stroke="#111" stroke-width="0.08" >ACIN1</text>
<text x="145.80" y="456.92" font-size="4.3" fill="#111" text-anchor="start" stroke="#111" stroke-width="0.08" >RNPS1</text>
<text x="145.80" y="460.99" font-size="4.3" fill="#111" text-anchor="start" stroke="#111" stroke-width="0.08" >SAP18</text>
<text x="145.80" y="465.06" font-size="4.3" fill="#111" text-anchor="start" stroke="#111" stroke-width="0.08" >PNN</text>
<text x="145.80" y="469.12" font-size="4.3" fill="#111" text-anchor="start" stroke="#111" stroke-width="0.08" >BUD31</text>
<text x="145.80" y="473.20" font-size="4.3" fill="#111" text-anchor="start" stroke="#111" stroke-width="0.08" >CLK3</text>
<text x="145.80" y="477.26" font-size="4.3" fill="#111" text-anchor="start" stroke="#111" stroke-width="0.08" >FXR1</text>
<text x="145.80" y="481.34" font-size="4.3" fill="#111" text-anchor="start" stroke="#111" stroke-width="0.08" >FMR1</text>
<text x="145.80" y="485.40" font-size="4.3" fill="#111" text-anchor="start" stroke="#111" stroke-width="0.08" >MRTO4</text>
<text x="145.80" y="489.48" font-size="4.3" fill="#111" text-anchor="start" stroke="#111" stroke-width="0.08" >RPS20</text>
<text x="145.80" y="493.55" font-size="4.3" fill="#111" text-anchor="start" stroke="#111" stroke-width="0.08" >SERBP1</text>
<text x="145.80" y="497.62" font-size="4.3" fill="#111" text-anchor="start" stroke="#111" stroke-width="0.08" >UHRF1</text>
<text x="145.80" y="501.69" font-size="4.3" fill="#111" text-anchor="start" stroke="#111" stroke-width="0.08" >PRMT1</text>
<text x="145.80" y="505.75" font-size="4.3" fill="#111" text-anchor="start" stroke="#111" stroke-width="0.08" >TAF1</text>
<text x="145.80" y="509.83" font-size="4.3" fill="#111" text-anchor="start" stroke="#111" stroke-width="0.08" >TAF4</text>
<text x="145.80" y="513.89" font-size="4.3" fill="#111" text-anchor="start" stroke="#111" stroke-width="0.08" >ACTA2</text>
<text x="145.80" y="517.97" font-size="4.3" fill="#111" text-anchor="start" stroke="#111" stroke-width="0.08" >ACTG1</text>
<text x="145.80" y="522.04" font-size="4.3" fill="#111" text-anchor="start" stroke="#111" stroke-width="0.08" >CORO1C</text>
<text x="145.80" y="526.11" font-size="4.3" fill="#111" text-anchor="start" stroke="#111" stroke-width="0.08" >KRT18</text>
<text x="145.80" y="530.17" font-size="4.3" fill="#111" text-anchor="start" stroke="#111" stroke-width="0.08" >NPM1</text>
<text x="145.80" y="534.25" font-size="4.3" fill="#111" text-anchor="start" stroke="#111" stroke-width="0.08" >SSH4</text>
<text x="145.80" y="538.32" font-size="4.3" fill="#111" text-anchor="start" stroke="#111" stroke-width="0.08" >WDR3</text>
<text x="145.80" y="546.46" font-size="4.3" fill="#111" text-anchor="start" stroke="#111" stroke-width="0.08" >DNAJC21</text>
<text x="145.80" y="550.52" font-size="4.3" fill="#111" text-anchor="start" stroke="#111" stroke-width="0.08" >MYO1B</text>
<text x="145.80" y="554.60" font-size="4.3" fill="#111" text-anchor="start" stroke="#111" stroke-width="0.08" >RPSA</text>
<text x="145.80" y="558.66" font-size="4.3" fill="#111" text-anchor="start" stroke="#111" stroke-width="0.08" >EIF4A1</text>
<text x="145.80" y="562.74" font-size="4.3" fill="#111" text-anchor="start" stroke="#111" stroke-width="0.08" >MRPS22</text>
<text x="145.80" y="566.81" font-size="4.3" fill="#111" text-anchor="start" stroke="#111" stroke-width="0.08" >FXR2</text>
<text x="145.80" y="570.88" font-size="4.3" fill="#111" text-anchor="start" stroke="#111" stroke-width="0.08" >VIM</text>
<path d="M74.50 325.18H77.00M74.50 329.25H77.00M74.50 325.18V329.25M75.50 333.31H77.00M75.50 337.38H77.00M75.50 333.31V337.38M72.20 327.21H74.50M72.20 335.35H75.50M72.20 327.21V335.35M69.40 321.11H77.00M69.40 331.28H72.20M69.40 321.11V331.28M65.50 317.04H77.00M65.50 326.19H69.40M65.50 317.04V326.19" stroke="#4848b0" stroke-width="0.7" fill="none"/>
<path d="M72.00 341.45H77.00M72.00 345.52H77.00M72.00 341.45V345.52M67.20 343.49H72.00M67.20 349.60H77.00M67.20 343.49V349.60" stroke="#6cc4cc" stroke-width="0.7" fill="none"/>
<path d="M57.50 321.61H65.50M57.50 346.54H67.20M57.50 321.61V346.54M66.60 362.82H71.50M66.60 386.23H77.00M66.60 362.82V386.23M64.50 396.97H67.30M64.50 442.70H70.10M64.50 396.97V442.70M71.00 500.19H77.00M71.00 504.25H77.00M71.00 500.19V504.25M75.00 516.47H77.00M75.00 520.54H77.00M75.00 516.47V520.54M74.00 512.39H77.00M74.00 518.50H75.00M74.00 512.39V518.50M72.00 508.33H77.00M72.00 515.45H74.00M72.00 508.33V515.45M68.00 502.22H71.00M68.00 511.89H72.00M68.00 502.22V511.89M60.30 478.56H64.50M60.30 507.05H68.00M60.30 478.56V507.05M55.40 419.83H64.50M55.40 492.81H60.30M55.40 419.83V492.81M72.00 528.67H77.00M72.00 532.75H77.00M72.00 528.67V532.75M73.00 536.82H77.00M73.00 540.88H77.00M73.00 536.82V540.88M74.00 544.96H77.00M74.00 549.02H77.00M74.00 544.96V549.02M71.00 538.85H73.00M71.00 546.99H74.00M71.00 538.85V546.99M69.40 530.71H72.00M69.40 542.92H71.00M69.40 530.71V542.92M65.90 524.61H77.00M65.90 536.82H69.40M65.90 524.61V536.82M73.00 553.10H77.00M73.00 557.16H77.00M73.00 553.10V557.16M71.30 555.13H73.00M71.30 561.24H77.00M71.30 555.13V561.24M60.10 530.71H65.90M60.10 558.18H71.30M60.10 530.71V558.18M54.70 544.45H60.10M54.70 565.31H77.00M54.70 544.45V565.31M49.20 456.32H55.40M49.20 554.88H54.70M49.20 456.32V554.88M42.30 374.52H66.60M42.30 505.60H49.20M42.30 374.52V505.60M32.20 440.06H42.30M32.20 569.38H77.00M32.20 440.06V569.38M19.30 334.08H57.50M19.30 504.72H32.20M19.30 334.08V504.72" stroke="#6a6ab4" stroke-width="0.7" fill="none"/>
<path d="M73.00 353.67H77.00M73.00 357.74H77.00M73.00 353.67V357.74M74.00 361.81H77.00M74.00 365.88H77.00M74.00 361.81V365.88M75.50 369.94H77.00M75.50 374.01H77.00M75.50 369.94V374.01M76.00 378.09H77.00M76.00 382.15H77.00M76.00 378.09V382.15M74.50 371.98H75.50M74.50 380.12H76.00M74.50 371.98V380.12M72.50 363.84H74.00M72.50 376.05H74.50M72.50 363.84V376.05M71.50 355.70H73.00M71.50 369.95H72.50M71.50 355.70V369.95" stroke="#d87070" stroke-width="0.7" fill="none"/>
<path d="M72.00 394.37H77.00M72.00 398.44H77.00M72.00 394.37V398.44M73.50 402.50H77.00M73.50 406.57H77.00M73.50 402.50V406.57M75.00 410.64H77.00M75.00 414.72H77.00M75.00 410.64V414.72M76.00 422.86H77.00M76.00 426.93H77.00M76.00 422.86V426.93M75.50 418.79H77.00M75.50 424.89H76.00M75.50 418.79V424.89M74.00 412.68H75.00M74.00 421.84H75.50M74.00 412.68V421.84M71.50 404.54H73.50M71.50 417.26H74.00M71.50 404.54V417.26M70.50 396.40H72.00M70.50 410.90H71.50M70.50 396.40V410.90M67.30 390.30H77.00M67.30 403.65H70.50M67.30 390.30V403.65M74.00 435.06H77.00M74.00 439.13H77.00M74.00 435.06V439.13M72.50 431.00H77.00M72.50 437.10H74.00M72.50 431.00V437.10M73.00 443.21H77.00M73.00 447.27H77.00M73.00 443.21V447.27M75.00 451.35H77.00M75.00 455.42H77.00M75.00 451.35V455.42M75.50 459.49H77.00M75.50 463.56H77.00M75.50 459.49V463.56M73.50 453.38H75.00M73.50 461.52H75.50M73.50 453.38V461.52M71.50 445.24H73.00M71.50 457.45H73.50M71.50 445.24V457.45M70.10 434.05H72.50M70.10 451.35H71.50M70.10 434.05V451.35" stroke="#70a870" stroke-width="0.7" fill="none"/>
<path d="M70.00 471.70H77.00M70.00 475.76H77.00M70.00 471.70V475.76M67.70 467.62H77.00M67.70 473.73H70.00M67.70 467.62V473.73M71.00 479.84H77.00M71.00 483.90H77.00M71.00 479.84V483.90M74.00 492.05H77.00M74.00 496.12H77.00M74.00 492.05V496.12M72.00 487.98H77.00M72.00 494.08H74.00M72.00 487.98V494.08M68.50 481.87H71.00M68.50 491.03H72.00M68.50 481.87V491.03M64.50 470.68H67.70M64.50 486.45H68.50M64.50 470.68V486.45" stroke="#b0c890" stroke-width="0.7" fill="none"/>
</svg></body></html>
